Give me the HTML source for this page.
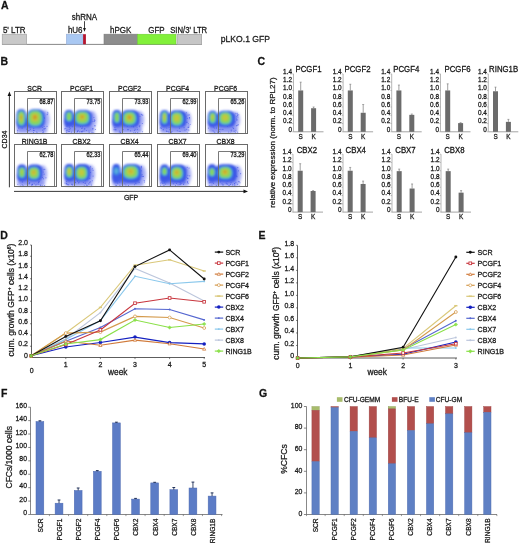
<!DOCTYPE html><html><head><meta charset="utf-8"><style>html,body{margin:0;padding:0;background:#fff;} svg{display:block;will-change:transform;filter:blur(0.25px);} text{font-family:"Liberation Sans", sans-serif;stroke:#1a1a1a;stroke-width:0.26px;}</style></head><body>
<svg width="520" height="545" viewBox="0 0 520 545">
<rect width="520" height="545" fill="#fff"/>
<defs>
<filter id="bl" x="-20%" y="-20%" width="140%" height="140%"><feGaussianBlur stdDeviation="0.9"/></filter>
<linearGradient id="bgrad" x1="0" y1="0" x2="0" y2="1"><stop offset="0" stop-color="#3a56e6"/><stop offset="0.6" stop-color="#3d58e6"/><stop offset="1" stop-color="#4a60ea" stop-opacity="0.5"/></linearGradient>
<filter id="bl2" x="-20%" y="-20%" width="140%" height="140%"><feGaussianBlur stdDeviation="1.4"/></filter>
<g id="flow00">
<g filter="url(#bl2)" opacity="0.7">
<rect x="2.10" y="27.15" width="30.70" height="14.45" rx="3" fill="#5e6cec"/>
<ellipse cx="30.50" cy="28.15" rx="4.5" ry="9.35" fill="#7e88f0"/>
</g>
<circle cx="15.76" cy="37.83" r="0.55" fill="#3446e4" opacity="0.6"/>
<circle cx="22.19" cy="40.46" r="0.55" fill="#3446e4" opacity="0.6"/>
<circle cx="33.25" cy="20.82" r="0.55" fill="#3446e4" opacity="0.6"/>
<circle cx="29.51" cy="26.11" r="0.55" fill="#3446e4" opacity="0.6"/>
<circle cx="12.08" cy="37.59" r="0.55" fill="#3446e4" opacity="0.6"/>
<circle cx="18.95" cy="38.88" r="0.55" fill="#3446e4" opacity="0.6"/>
<circle cx="33.37" cy="22.37" r="0.55" fill="#3446e4" opacity="0.6"/>
<circle cx="15.55" cy="36.31" r="0.55" fill="#3446e4" opacity="0.6"/>
<circle cx="30.05" cy="26.64" r="0.55" fill="#3446e4" opacity="0.6"/>
<circle cx="28.93" cy="40.39" r="0.55" fill="#3446e4" opacity="0.6"/>
<circle cx="22.81" cy="41.45" r="0.55" fill="#3446e4" opacity="0.6"/>
<circle cx="4.17" cy="36.55" r="0.55" fill="#3446e4" opacity="0.6"/>
<circle cx="14.69" cy="38.80" r="0.55" fill="#3446e4" opacity="0.6"/>
<circle cx="19.72" cy="39.06" r="0.55" fill="#3446e4" opacity="0.6"/>
<circle cx="28.27" cy="38.63" r="0.55" fill="#3446e4" opacity="0.6"/>
<circle cx="13.67" cy="39.08" r="0.55" fill="#3446e4" opacity="0.6"/>
<circle cx="32.66" cy="23.09" r="0.55" fill="#3446e4" opacity="0.6"/>
<circle cx="32.51" cy="34.85" r="0.55" fill="#3446e4" opacity="0.6"/>
<circle cx="30.82" cy="36.80" r="0.55" fill="#3446e4" opacity="0.6"/>
<circle cx="30.02" cy="37.19" r="0.55" fill="#3446e4" opacity="0.6"/>
<circle cx="3.11" cy="38.86" r="0.55" fill="#3446e4" opacity="0.6"/>
<circle cx="29.21" cy="41.45" r="0.55" fill="#3446e4" opacity="0.6"/>
<circle cx="3.03" cy="40.53" r="0.55" fill="#3446e4" opacity="0.6"/>
<circle cx="19.04" cy="41.13" r="0.55" fill="#3446e4" opacity="0.6"/>
<circle cx="29.67" cy="34.98" r="0.55" fill="#3446e4" opacity="0.6"/>
<circle cx="7.60" cy="36.63" r="0.55" fill="#3446e4" opacity="0.6"/>
<circle cx="19.18" cy="36.78" r="0.55" fill="#3446e4" opacity="0.6"/>
<circle cx="28.02" cy="41.27" r="0.55" fill="#3446e4" opacity="0.6"/>
<circle cx="29.33" cy="37.37" r="0.55" fill="#3446e4" opacity="0.6"/>
<circle cx="28.24" cy="35.93" r="0.55" fill="#3446e4" opacity="0.6"/>
<g filter="url(#bl)">
<rect x="1.80" y="17.80" width="10.00" height="18.70" rx="3.50" ry="6.54" fill="#3a56e6"/>
<rect x="12.40" y="17.80" width="18.10" height="18.70" rx="6.33" ry="6.54" fill="#3a56e6"/>
<rect x="3.00" y="27.15" width="26.30" height="9.35" rx="3" fill="url(#bgrad)"/>
<rect x="2.51" y="19.00" width="8.59" height="15.81" rx="3.44" ry="6.32" fill="#3a7ce2"/>
<rect x="3.23" y="19.87" width="7.13" height="13.87" rx="2.85" ry="5.55" fill="#46c2d2"/>
<rect x="3.67" y="20.23" width="6.27" height="12.73" rx="2.51" ry="5.09" fill="#84d460"/>
<rect x="4.88" y="22.52" width="3.43" height="7.37" rx="1.37" ry="2.95" fill="#c2c83c"/>
<rect x="5.86" y="24.29" width="1.48" height="3.22" rx="0.59" ry="1.29" fill="#d0982a"/>
<rect x="12.28" y="18.28" width="16.73" height="17.04" rx="6.69" ry="6.82" fill="#3a7ce2"/>
<rect x="13.46" y="19.20" width="14.38" height="14.99" rx="5.75" ry="6.00" fill="#46c2d2"/>
<rect x="14.24" y="19.61" width="12.82" height="13.77" rx="5.13" ry="5.51" fill="#84d460"/>
<rect x="16.94" y="22.11" width="7.02" height="7.98" rx="2.81" ry="3.19" fill="#c2c83c"/>
<rect x="18.56" y="23.62" width="3.78" height="4.35" rx="1.51" ry="1.74" fill="#d0982a"/>
</g>
</g>
<g id="flow01">
<g filter="url(#bl2)" opacity="0.7">
<rect x="2.90" y="27.00" width="30.10" height="14.60" rx="3" fill="#5e6cec"/>
<ellipse cx="30.70" cy="28.00" rx="4.5" ry="8.50" fill="#7e88f0"/>
</g>
<circle cx="11.16" cy="35.11" r="0.55" fill="#3446e4" opacity="0.6"/>
<circle cx="32.85" cy="29.94" r="0.55" fill="#3446e4" opacity="0.6"/>
<circle cx="32.24" cy="41.35" r="0.55" fill="#3446e4" opacity="0.6"/>
<circle cx="32.80" cy="28.19" r="0.55" fill="#3446e4" opacity="0.6"/>
<circle cx="22.51" cy="39.50" r="0.55" fill="#3446e4" opacity="0.6"/>
<circle cx="23.41" cy="37.37" r="0.55" fill="#3446e4" opacity="0.6"/>
<circle cx="31.39" cy="37.01" r="0.55" fill="#3446e4" opacity="0.6"/>
<circle cx="8.65" cy="37.15" r="0.55" fill="#3446e4" opacity="0.6"/>
<circle cx="13.44" cy="37.40" r="0.55" fill="#3446e4" opacity="0.6"/>
<circle cx="33.32" cy="28.85" r="0.55" fill="#3446e4" opacity="0.6"/>
<circle cx="15.58" cy="40.48" r="0.55" fill="#3446e4" opacity="0.6"/>
<circle cx="31.24" cy="37.52" r="0.55" fill="#3446e4" opacity="0.6"/>
<circle cx="7.65" cy="37.94" r="0.55" fill="#3446e4" opacity="0.6"/>
<circle cx="33.59" cy="34.37" r="0.55" fill="#3446e4" opacity="0.6"/>
<circle cx="33.29" cy="34.21" r="0.55" fill="#3446e4" opacity="0.6"/>
<circle cx="19.48" cy="40.20" r="0.55" fill="#3446e4" opacity="0.6"/>
<circle cx="16.59" cy="38.89" r="0.55" fill="#3446e4" opacity="0.6"/>
<circle cx="7.18" cy="39.70" r="0.55" fill="#3446e4" opacity="0.6"/>
<circle cx="21.24" cy="39.58" r="0.55" fill="#3446e4" opacity="0.6"/>
<circle cx="16.18" cy="39.86" r="0.55" fill="#3446e4" opacity="0.6"/>
<circle cx="3.22" cy="37.36" r="0.55" fill="#3446e4" opacity="0.6"/>
<circle cx="20.37" cy="37.05" r="0.55" fill="#3446e4" opacity="0.6"/>
<circle cx="20.57" cy="36.54" r="0.55" fill="#3446e4" opacity="0.6"/>
<circle cx="31.48" cy="29.85" r="0.55" fill="#3446e4" opacity="0.6"/>
<circle cx="19.03" cy="35.12" r="0.55" fill="#3446e4" opacity="0.6"/>
<circle cx="17.97" cy="40.37" r="0.55" fill="#3446e4" opacity="0.6"/>
<circle cx="24.85" cy="38.99" r="0.55" fill="#3446e4" opacity="0.6"/>
<circle cx="32.40" cy="25.98" r="0.55" fill="#3446e4" opacity="0.6"/>
<circle cx="20.50" cy="40.40" r="0.55" fill="#3446e4" opacity="0.6"/>
<circle cx="5.37" cy="34.63" r="0.55" fill="#3446e4" opacity="0.6"/>
<circle cx="27.48" cy="39.43" r="0.55" fill="#3446e4" opacity="0.6"/>
<circle cx="7.90" cy="35.61" r="0.55" fill="#3446e4" opacity="0.6"/>
<circle cx="30.56" cy="40.92" r="0.55" fill="#3446e4" opacity="0.6"/>
<circle cx="9.93" cy="40.60" r="0.55" fill="#3446e4" opacity="0.6"/>
<circle cx="33.89" cy="38.06" r="0.55" fill="#3446e4" opacity="0.6"/>
<circle cx="5.10" cy="41.29" r="0.55" fill="#3446e4" opacity="0.6"/>
<circle cx="27.62" cy="41.00" r="0.55" fill="#3446e4" opacity="0.6"/>
<circle cx="4.33" cy="36.94" r="0.55" fill="#3446e4" opacity="0.6"/>
<circle cx="16.23" cy="39.73" r="0.55" fill="#3446e4" opacity="0.6"/>
<circle cx="7.75" cy="39.89" r="0.55" fill="#3446e4" opacity="0.6"/>
<circle cx="20.85" cy="35.28" r="0.55" fill="#3446e4" opacity="0.6"/>
<circle cx="5.35" cy="40.30" r="0.55" fill="#3446e4" opacity="0.6"/>
<circle cx="22.83" cy="37.41" r="0.55" fill="#3446e4" opacity="0.6"/>
<circle cx="5.70" cy="38.57" r="0.55" fill="#3446e4" opacity="0.6"/>
<circle cx="5.17" cy="38.70" r="0.55" fill="#3446e4" opacity="0.6"/>
<circle cx="20.30" cy="40.05" r="0.55" fill="#3446e4" opacity="0.6"/>
<g filter="url(#bl)">
<rect x="2.60" y="18.50" width="9.80" height="17.00" rx="3.43" ry="5.95" fill="#3a56e6"/>
<rect x="12.50" y="18.50" width="18.20" height="17.00" rx="6.37" ry="5.95" fill="#3a56e6"/>
<rect x="3.80" y="27.00" width="25.70" height="8.50" rx="3" fill="url(#bgrad)"/>
<rect x="4.21" y="20.25" width="6.58" height="10.10" rx="2.63" ry="4.04" fill="#3a7ce2"/>
<rect x="4.83" y="20.87" width="5.35" height="8.67" rx="2.14" ry="3.47" fill="#46c2d2"/>
<rect x="5.17" y="21.06" width="4.66" height="7.89" rx="1.86" ry="3.15" fill="#84d460"/>
<rect x="12.85" y="19.39" width="15.90" height="14.02" rx="6.36" ry="5.61" fill="#3a7ce2"/>
<rect x="13.98" y="20.18" width="13.64" height="12.24" rx="5.46" ry="4.89" fill="#46c2d2"/>
<rect x="14.72" y="20.50" width="12.16" height="11.21" rx="4.86" ry="4.48" fill="#84d460"/>
<rect x="17.27" y="22.46" width="6.66" height="6.49" rx="2.66" ry="2.60" fill="#c2c83c"/>
<rect x="19.17" y="23.98" width="2.87" height="2.83" rx="1.15" ry="1.13" fill="#d0982a"/>
</g>
</g>
<g id="flow02">
<g filter="url(#bl2)" opacity="0.7">
<rect x="3.10" y="27.15" width="29.40" height="14.45" rx="3" fill="#5e6cec"/>
<ellipse cx="30.20" cy="28.15" rx="4.5" ry="8.65" fill="#7e88f0"/>
</g>
<circle cx="31.71" cy="22.74" r="0.55" fill="#3446e4" opacity="0.6"/>
<circle cx="18.35" cy="38.11" r="0.55" fill="#3446e4" opacity="0.6"/>
<circle cx="24.21" cy="41.23" r="0.55" fill="#3446e4" opacity="0.6"/>
<circle cx="13.72" cy="38.06" r="0.55" fill="#3446e4" opacity="0.6"/>
<circle cx="5.45" cy="36.13" r="0.55" fill="#3446e4" opacity="0.6"/>
<circle cx="5.87" cy="38.25" r="0.55" fill="#3446e4" opacity="0.6"/>
<circle cx="29.76" cy="34.65" r="0.55" fill="#3446e4" opacity="0.6"/>
<circle cx="11.30" cy="40.79" r="0.55" fill="#3446e4" opacity="0.6"/>
<circle cx="32.87" cy="32.04" r="0.55" fill="#3446e4" opacity="0.6"/>
<circle cx="10.73" cy="40.88" r="0.55" fill="#3446e4" opacity="0.6"/>
<circle cx="25.07" cy="39.05" r="0.55" fill="#3446e4" opacity="0.6"/>
<circle cx="33.24" cy="23.65" r="0.55" fill="#3446e4" opacity="0.6"/>
<circle cx="4.63" cy="38.12" r="0.55" fill="#3446e4" opacity="0.6"/>
<circle cx="30.42" cy="33.74" r="0.55" fill="#3446e4" opacity="0.6"/>
<circle cx="25.61" cy="37.64" r="0.55" fill="#3446e4" opacity="0.6"/>
<circle cx="18.63" cy="38.12" r="0.55" fill="#3446e4" opacity="0.6"/>
<circle cx="27.76" cy="37.94" r="0.55" fill="#3446e4" opacity="0.6"/>
<circle cx="21.06" cy="39.34" r="0.55" fill="#3446e4" opacity="0.6"/>
<circle cx="24.06" cy="35.13" r="0.55" fill="#3446e4" opacity="0.6"/>
<circle cx="6.49" cy="38.14" r="0.55" fill="#3446e4" opacity="0.6"/>
<circle cx="22.34" cy="34.86" r="0.55" fill="#3446e4" opacity="0.6"/>
<circle cx="27.55" cy="36.29" r="0.55" fill="#3446e4" opacity="0.6"/>
<circle cx="25.79" cy="41.09" r="0.55" fill="#3446e4" opacity="0.6"/>
<circle cx="17.86" cy="34.93" r="0.55" fill="#3446e4" opacity="0.6"/>
<circle cx="23.73" cy="35.11" r="0.55" fill="#3446e4" opacity="0.6"/>
<circle cx="30.47" cy="24.70" r="0.55" fill="#3446e4" opacity="0.6"/>
<circle cx="33.04" cy="40.25" r="0.55" fill="#3446e4" opacity="0.6"/>
<circle cx="28.22" cy="40.93" r="0.55" fill="#3446e4" opacity="0.6"/>
<circle cx="9.68" cy="40.45" r="0.55" fill="#3446e4" opacity="0.6"/>
<circle cx="32.26" cy="23.30" r="0.55" fill="#3446e4" opacity="0.6"/>
<circle cx="30.26" cy="35.34" r="0.55" fill="#3446e4" opacity="0.6"/>
<circle cx="10.33" cy="39.44" r="0.55" fill="#3446e4" opacity="0.6"/>
<g filter="url(#bl)">
<rect x="2.80" y="18.50" width="9.20" height="17.30" rx="3.22" ry="6.05" fill="#3a56e6"/>
<rect x="11.60" y="18.50" width="18.60" height="17.30" rx="6.51" ry="6.05" fill="#3a56e6"/>
<rect x="4.00" y="27.15" width="25.00" height="8.65" rx="3" fill="url(#bgrad)"/>
<rect x="4.29" y="20.32" width="6.23" height="11.55" rx="2.49" ry="4.62" fill="#3a7ce2"/>
<rect x="4.88" y="21.00" width="5.03" height="9.99" rx="2.01" ry="4.00" fill="#46c2d2"/>
<rect x="5.22" y="21.24" width="4.37" height="9.12" rx="1.75" ry="3.65" fill="#84d460"/>
<rect x="12.74" y="19.78" width="14.72" height="14.24" rx="5.89" ry="5.70" fill="#3a7ce2"/>
<rect x="13.81" y="20.58" width="12.59" height="12.44" rx="5.04" ry="4.98" fill="#46c2d2"/>
<rect x="14.50" y="20.90" width="11.21" height="11.40" rx="4.48" ry="4.56" fill="#84d460"/>
<rect x="16.83" y="22.90" width="6.14" height="6.60" rx="2.45" ry="2.64" fill="#c2c83c"/>
<rect x="18.25" y="24.10" width="3.30" height="3.60" rx="1.32" ry="1.44" fill="#d0982a"/>
</g>
</g>
<g id="flow03">
<g filter="url(#bl2)" opacity="0.7">
<rect x="2.50" y="27.45" width="29.00" height="14.15" rx="3" fill="#5e6cec"/>
<ellipse cx="29.20" cy="28.45" rx="4.5" ry="8.65" fill="#7e88f0"/>
</g>
<circle cx="12.18" cy="38.28" r="0.55" fill="#3446e4" opacity="0.6"/>
<circle cx="2.75" cy="36.42" r="0.55" fill="#3446e4" opacity="0.6"/>
<circle cx="30.49" cy="35.63" r="0.55" fill="#3446e4" opacity="0.6"/>
<circle cx="29.75" cy="26.83" r="0.55" fill="#3446e4" opacity="0.6"/>
<circle cx="32.66" cy="33.05" r="0.55" fill="#3446e4" opacity="0.6"/>
<circle cx="5.75" cy="38.16" r="0.55" fill="#3446e4" opacity="0.6"/>
<circle cx="11.27" cy="40.26" r="0.55" fill="#3446e4" opacity="0.6"/>
<circle cx="13.90" cy="40.69" r="0.55" fill="#3446e4" opacity="0.6"/>
<circle cx="29.23" cy="37.69" r="0.55" fill="#3446e4" opacity="0.6"/>
<circle cx="21.63" cy="39.80" r="0.55" fill="#3446e4" opacity="0.6"/>
<circle cx="30.92" cy="32.22" r="0.55" fill="#3446e4" opacity="0.6"/>
<circle cx="30.50" cy="23.45" r="0.55" fill="#3446e4" opacity="0.6"/>
<circle cx="11.63" cy="36.17" r="0.55" fill="#3446e4" opacity="0.6"/>
<circle cx="31.99" cy="26.21" r="0.55" fill="#3446e4" opacity="0.6"/>
<circle cx="8.94" cy="39.64" r="0.55" fill="#3446e4" opacity="0.6"/>
<circle cx="29.89" cy="41.53" r="0.55" fill="#3446e4" opacity="0.6"/>
<circle cx="19.79" cy="39.25" r="0.55" fill="#3446e4" opacity="0.6"/>
<circle cx="31.73" cy="23.42" r="0.55" fill="#3446e4" opacity="0.6"/>
<circle cx="28.59" cy="25.29" r="0.55" fill="#3446e4" opacity="0.6"/>
<circle cx="31.32" cy="38.45" r="0.55" fill="#3446e4" opacity="0.6"/>
<circle cx="28.89" cy="21.25" r="0.55" fill="#3446e4" opacity="0.6"/>
<circle cx="3.67" cy="35.56" r="0.55" fill="#3446e4" opacity="0.6"/>
<circle cx="29.57" cy="30.64" r="0.55" fill="#3446e4" opacity="0.6"/>
<circle cx="14.45" cy="40.08" r="0.55" fill="#3446e4" opacity="0.6"/>
<circle cx="27.47" cy="38.59" r="0.55" fill="#3446e4" opacity="0.6"/>
<circle cx="31.87" cy="25.97" r="0.55" fill="#3446e4" opacity="0.6"/>
<circle cx="30.94" cy="35.81" r="0.55" fill="#3446e4" opacity="0.6"/>
<circle cx="22.12" cy="36.71" r="0.55" fill="#3446e4" opacity="0.6"/>
<circle cx="3.89" cy="37.07" r="0.55" fill="#3446e4" opacity="0.6"/>
<circle cx="9.68" cy="39.93" r="0.55" fill="#3446e4" opacity="0.6"/>
<circle cx="21.79" cy="35.33" r="0.55" fill="#3446e4" opacity="0.6"/>
<circle cx="31.47" cy="34.21" r="0.55" fill="#3446e4" opacity="0.6"/>
<circle cx="29.21" cy="30.69" r="0.55" fill="#3446e4" opacity="0.6"/>
<circle cx="31.52" cy="35.46" r="0.55" fill="#3446e4" opacity="0.6"/>
<circle cx="22.72" cy="40.04" r="0.55" fill="#3446e4" opacity="0.6"/>
<circle cx="26.61" cy="36.17" r="0.55" fill="#3446e4" opacity="0.6"/>
<circle cx="31.80" cy="27.28" r="0.55" fill="#3446e4" opacity="0.6"/>
<circle cx="9.34" cy="36.62" r="0.55" fill="#3446e4" opacity="0.6"/>
<circle cx="11.55" cy="40.60" r="0.55" fill="#3446e4" opacity="0.6"/>
<g filter="url(#bl)">
<rect x="2.20" y="18.80" width="9.60" height="17.30" rx="3.36" ry="6.05" fill="#3a56e6"/>
<rect x="11.20" y="18.80" width="18.00" height="17.30" rx="6.30" ry="6.05" fill="#3a56e6"/>
<rect x="3.40" y="27.45" width="24.60" height="8.65" rx="3" fill="url(#bgrad)"/>
<rect x="3.77" y="19.84" width="6.46" height="13.12" rx="2.59" ry="5.25" fill="#3a7ce2"/>
<rect x="4.38" y="20.59" width="5.24" height="11.42" rx="2.10" ry="4.57" fill="#46c2d2"/>
<rect x="4.72" y="20.88" width="4.56" height="10.45" rx="1.82" ry="4.18" fill="#84d460"/>
<rect x="5.55" y="22.68" width="2.50" height="6.05" rx="1.00" ry="2.42" fill="#c2c83c"/>
<rect x="12.63" y="20.06" width="13.54" height="14.69" rx="5.42" ry="5.88" fill="#3a7ce2"/>
<rect x="13.63" y="20.88" width="11.54" height="12.85" rx="4.62" ry="5.14" fill="#46c2d2"/>
<rect x="14.27" y="21.21" width="10.26" height="11.78" rx="4.10" ry="4.71" fill="#84d460"/>
<rect x="16.39" y="23.29" width="5.62" height="6.82" rx="2.25" ry="2.73" fill="#c2c83c"/>
</g>
</g>
<g id="flow04">
<g filter="url(#bl2)" opacity="0.7">
<rect x="2.60" y="27.50" width="29.70" height="14.10" rx="3" fill="#5e6cec"/>
<ellipse cx="30.00" cy="28.50" rx="4.5" ry="8.30" fill="#7e88f0"/>
</g>
<circle cx="23.22" cy="40.55" r="0.55" fill="#3446e4" opacity="0.6"/>
<circle cx="9.34" cy="41.07" r="0.55" fill="#3446e4" opacity="0.6"/>
<circle cx="30.37" cy="39.23" r="0.55" fill="#3446e4" opacity="0.6"/>
<circle cx="25.29" cy="41.55" r="0.55" fill="#3446e4" opacity="0.6"/>
<circle cx="31.40" cy="27.92" r="0.55" fill="#3446e4" opacity="0.6"/>
<circle cx="8.50" cy="40.29" r="0.55" fill="#3446e4" opacity="0.6"/>
<circle cx="32.13" cy="23.72" r="0.55" fill="#3446e4" opacity="0.6"/>
<circle cx="32.40" cy="25.43" r="0.55" fill="#3446e4" opacity="0.6"/>
<circle cx="13.75" cy="37.96" r="0.55" fill="#3446e4" opacity="0.6"/>
<circle cx="14.24" cy="39.96" r="0.55" fill="#3446e4" opacity="0.6"/>
<circle cx="30.34" cy="21.82" r="0.55" fill="#3446e4" opacity="0.6"/>
<circle cx="15.41" cy="37.76" r="0.55" fill="#3446e4" opacity="0.6"/>
<circle cx="31.05" cy="26.44" r="0.55" fill="#3446e4" opacity="0.6"/>
<circle cx="25.74" cy="39.53" r="0.55" fill="#3446e4" opacity="0.6"/>
<circle cx="32.20" cy="33.79" r="0.55" fill="#3446e4" opacity="0.6"/>
<circle cx="10.85" cy="35.82" r="0.55" fill="#3446e4" opacity="0.6"/>
<circle cx="2.92" cy="36.62" r="0.55" fill="#3446e4" opacity="0.6"/>
<circle cx="30.94" cy="34.13" r="0.55" fill="#3446e4" opacity="0.6"/>
<circle cx="31.76" cy="21.69" r="0.55" fill="#3446e4" opacity="0.6"/>
<circle cx="32.17" cy="40.66" r="0.55" fill="#3446e4" opacity="0.6"/>
<circle cx="31.29" cy="24.93" r="0.55" fill="#3446e4" opacity="0.6"/>
<circle cx="27.44" cy="36.27" r="0.55" fill="#3446e4" opacity="0.6"/>
<circle cx="28.06" cy="36.97" r="0.55" fill="#3446e4" opacity="0.6"/>
<circle cx="8.86" cy="36.56" r="0.55" fill="#3446e4" opacity="0.6"/>
<circle cx="12.80" cy="41.20" r="0.55" fill="#3446e4" opacity="0.6"/>
<circle cx="29.92" cy="41.35" r="0.55" fill="#3446e4" opacity="0.6"/>
<circle cx="21.84" cy="34.95" r="0.55" fill="#3446e4" opacity="0.6"/>
<circle cx="25.76" cy="38.48" r="0.55" fill="#3446e4" opacity="0.6"/>
<circle cx="7.51" cy="39.24" r="0.55" fill="#3446e4" opacity="0.6"/>
<circle cx="14.96" cy="41.45" r="0.55" fill="#3446e4" opacity="0.6"/>
<circle cx="33.22" cy="23.29" r="0.55" fill="#3446e4" opacity="0.6"/>
<circle cx="17.38" cy="37.91" r="0.55" fill="#3446e4" opacity="0.6"/>
<circle cx="28.61" cy="39.85" r="0.55" fill="#3446e4" opacity="0.6"/>
<circle cx="32.67" cy="33.10" r="0.55" fill="#3446e4" opacity="0.6"/>
<circle cx="31.36" cy="28.79" r="0.55" fill="#3446e4" opacity="0.6"/>
<circle cx="29.39" cy="30.36" r="0.55" fill="#3446e4" opacity="0.6"/>
<circle cx="10.78" cy="37.07" r="0.55" fill="#3446e4" opacity="0.6"/>
<circle cx="31.83" cy="23.36" r="0.55" fill="#3446e4" opacity="0.6"/>
<circle cx="7.83" cy="35.39" r="0.55" fill="#3446e4" opacity="0.6"/>
<circle cx="12.24" cy="40.65" r="0.55" fill="#3446e4" opacity="0.6"/>
<g filter="url(#bl)">
<rect x="2.30" y="19.20" width="9.60" height="16.60" rx="3.36" ry="5.81" fill="#3a56e6"/>
<rect x="11.20" y="19.20" width="18.80" height="16.60" rx="6.58" ry="5.81" fill="#3a56e6"/>
<rect x="3.50" y="27.50" width="25.30" height="8.30" rx="3" fill="url(#bgrad)"/>
<rect x="3.40" y="20.51" width="7.41" height="11.78" rx="2.96" ry="4.71" fill="#3a7ce2"/>
<rect x="4.06" y="21.20" width="6.08" height="10.20" rx="2.43" ry="4.08" fill="#46c2d2"/>
<rect x="4.44" y="21.45" width="5.32" height="9.31" rx="2.13" ry="3.72" fill="#84d460"/>
<rect x="5.74" y="23.54" width="2.33" height="4.31" rx="0.93" ry="1.72" fill="#c2c83c"/>
<rect x="12.67" y="20.12" width="14.25" height="13.57" rx="5.70" ry="5.43" fill="#3a7ce2"/>
<rect x="13.71" y="20.89" width="12.17" height="11.83" rx="4.87" ry="4.73" fill="#46c2d2"/>
<rect x="14.39" y="21.19" width="10.83" height="10.83" rx="4.33" ry="4.33" fill="#84d460"/>
<rect x="16.64" y="23.07" width="5.93" height="6.27" rx="2.37" ry="2.51" fill="#c2c83c"/>
</g>
</g>
<g id="flow10">
<g filter="url(#bl2)" opacity="0.7">
<rect x="2.90" y="28.55" width="27.60" height="13.05" rx="3" fill="#5e6cec"/>
<ellipse cx="28.20" cy="29.55" rx="4.5" ry="8.45" fill="#7e88f0"/>
</g>
<circle cx="27.82" cy="41.53" r="0.55" fill="#3446e4" opacity="0.6"/>
<circle cx="3.27" cy="39.68" r="0.55" fill="#3446e4" opacity="0.6"/>
<circle cx="15.22" cy="38.10" r="0.55" fill="#3446e4" opacity="0.6"/>
<circle cx="14.72" cy="39.32" r="0.55" fill="#3446e4" opacity="0.6"/>
<circle cx="21.42" cy="39.84" r="0.55" fill="#3446e4" opacity="0.6"/>
<circle cx="18.01" cy="40.15" r="0.55" fill="#3446e4" opacity="0.6"/>
<circle cx="26.12" cy="40.95" r="0.55" fill="#3446e4" opacity="0.6"/>
<circle cx="30.07" cy="41.12" r="0.55" fill="#3446e4" opacity="0.6"/>
<circle cx="29.59" cy="29.66" r="0.55" fill="#3446e4" opacity="0.6"/>
<circle cx="28.96" cy="34.20" r="0.55" fill="#3446e4" opacity="0.6"/>
<circle cx="14.67" cy="38.60" r="0.55" fill="#3446e4" opacity="0.6"/>
<circle cx="23.83" cy="39.60" r="0.55" fill="#3446e4" opacity="0.6"/>
<circle cx="24.94" cy="37.31" r="0.55" fill="#3446e4" opacity="0.6"/>
<circle cx="24.08" cy="37.26" r="0.55" fill="#3446e4" opacity="0.6"/>
<circle cx="30.29" cy="24.76" r="0.55" fill="#3446e4" opacity="0.6"/>
<circle cx="27.61" cy="41.52" r="0.55" fill="#3446e4" opacity="0.6"/>
<circle cx="24.04" cy="37.99" r="0.55" fill="#3446e4" opacity="0.6"/>
<circle cx="8.64" cy="41.24" r="0.55" fill="#3446e4" opacity="0.6"/>
<circle cx="17.17" cy="40.75" r="0.55" fill="#3446e4" opacity="0.6"/>
<circle cx="29.30" cy="25.32" r="0.55" fill="#3446e4" opacity="0.6"/>
<circle cx="25.65" cy="40.25" r="0.55" fill="#3446e4" opacity="0.6"/>
<circle cx="28.74" cy="27.46" r="0.55" fill="#3446e4" opacity="0.6"/>
<circle cx="17.46" cy="40.04" r="0.55" fill="#3446e4" opacity="0.6"/>
<circle cx="7.71" cy="40.36" r="0.55" fill="#3446e4" opacity="0.6"/>
<circle cx="22.54" cy="39.56" r="0.55" fill="#3446e4" opacity="0.6"/>
<circle cx="7.93" cy="37.40" r="0.55" fill="#3446e4" opacity="0.6"/>
<circle cx="28.07" cy="32.93" r="0.55" fill="#3446e4" opacity="0.6"/>
<circle cx="19.69" cy="39.31" r="0.55" fill="#3446e4" opacity="0.6"/>
<circle cx="6.09" cy="41.46" r="0.55" fill="#3446e4" opacity="0.6"/>
<circle cx="31.43" cy="33.36" r="0.55" fill="#3446e4" opacity="0.6"/>
<circle cx="13.40" cy="37.01" r="0.55" fill="#3446e4" opacity="0.6"/>
<circle cx="21.38" cy="41.29" r="0.55" fill="#3446e4" opacity="0.6"/>
<circle cx="17.76" cy="39.56" r="0.55" fill="#3446e4" opacity="0.6"/>
<g filter="url(#bl)">
<rect x="2.60" y="20.10" width="9.60" height="16.90" rx="3.36" ry="5.91" fill="#3a56e6"/>
<rect x="12.20" y="20.10" width="16.00" height="16.90" rx="5.60" ry="5.91" fill="#3a56e6"/>
<rect x="3.80" y="28.55" width="23.20" height="8.45" rx="3" fill="url(#bgrad)"/>
<rect x="3.70" y="22.54" width="7.41" height="11.33" rx="2.96" ry="4.53" fill="#3a7ce2"/>
<rect x="4.36" y="23.21" width="6.08" height="9.79" rx="2.43" ry="3.92" fill="#46c2d2"/>
<rect x="4.74" y="23.43" width="5.32" height="8.93" rx="2.13" ry="3.57" fill="#84d460"/>
<rect x="6.33" y="25.95" width="1.75" height="3.10" rx="0.70" ry="1.24" fill="#c2c83c"/>
<rect x="13.10" y="22.35" width="12.60" height="12.90" rx="5.04" ry="5.16" fill="#3a7ce2"/>
<rect x="14.05" y="23.09" width="10.70" height="11.22" rx="4.28" ry="4.49" fill="#46c2d2"/>
<rect x="14.65" y="23.37" width="9.50" height="10.26" rx="3.80" ry="4.10" fill="#84d460"/>
<rect x="16.60" y="25.13" width="5.20" height="5.94" rx="2.08" ry="2.38" fill="#c2c83c"/>
<rect x="18.36" y="26.83" width="1.68" height="1.94" rx="0.67" ry="0.78" fill="#d0982a"/>
</g>
</g>
<g id="flow11">
<g filter="url(#bl2)" opacity="0.7">
<rect x="3.10" y="28.20" width="28.30" height="13.40" rx="3" fill="#5e6cec"/>
<ellipse cx="29.10" cy="29.20" rx="4.5" ry="8.80" fill="#7e88f0"/>
</g>
<circle cx="7.25" cy="40.32" r="0.55" fill="#3446e4" opacity="0.6"/>
<circle cx="28.83" cy="37.20" r="0.55" fill="#3446e4" opacity="0.6"/>
<circle cx="30.76" cy="36.22" r="0.55" fill="#3446e4" opacity="0.6"/>
<circle cx="10.58" cy="39.65" r="0.55" fill="#3446e4" opacity="0.6"/>
<circle cx="5.01" cy="37.13" r="0.55" fill="#3446e4" opacity="0.6"/>
<circle cx="30.87" cy="24.27" r="0.55" fill="#3446e4" opacity="0.6"/>
<circle cx="4.72" cy="39.36" r="0.55" fill="#3446e4" opacity="0.6"/>
<circle cx="3.49" cy="38.46" r="0.55" fill="#3446e4" opacity="0.6"/>
<circle cx="13.13" cy="36.54" r="0.55" fill="#3446e4" opacity="0.6"/>
<circle cx="23.67" cy="38.48" r="0.55" fill="#3446e4" opacity="0.6"/>
<circle cx="31.58" cy="25.78" r="0.55" fill="#3446e4" opacity="0.6"/>
<circle cx="29.09" cy="21.71" r="0.55" fill="#3446e4" opacity="0.6"/>
<circle cx="25.10" cy="40.48" r="0.55" fill="#3446e4" opacity="0.6"/>
<circle cx="29.09" cy="28.04" r="0.55" fill="#3446e4" opacity="0.6"/>
<circle cx="10.31" cy="39.73" r="0.55" fill="#3446e4" opacity="0.6"/>
<circle cx="22.79" cy="41.18" r="0.55" fill="#3446e4" opacity="0.6"/>
<circle cx="17.06" cy="38.36" r="0.55" fill="#3446e4" opacity="0.6"/>
<circle cx="23.74" cy="38.72" r="0.55" fill="#3446e4" opacity="0.6"/>
<circle cx="16.11" cy="36.04" r="0.55" fill="#3446e4" opacity="0.6"/>
<circle cx="5.58" cy="39.80" r="0.55" fill="#3446e4" opacity="0.6"/>
<circle cx="6.43" cy="40.16" r="0.55" fill="#3446e4" opacity="0.6"/>
<circle cx="23.72" cy="36.28" r="0.55" fill="#3446e4" opacity="0.6"/>
<circle cx="13.95" cy="37.91" r="0.55" fill="#3446e4" opacity="0.6"/>
<circle cx="27.31" cy="39.40" r="0.55" fill="#3446e4" opacity="0.6"/>
<circle cx="5.23" cy="38.93" r="0.55" fill="#3446e4" opacity="0.6"/>
<circle cx="30.09" cy="40.48" r="0.55" fill="#3446e4" opacity="0.6"/>
<circle cx="28.14" cy="37.80" r="0.55" fill="#3446e4" opacity="0.6"/>
<circle cx="21.88" cy="38.07" r="0.55" fill="#3446e4" opacity="0.6"/>
<circle cx="31.55" cy="31.58" r="0.55" fill="#3446e4" opacity="0.6"/>
<circle cx="28.25" cy="33.89" r="0.55" fill="#3446e4" opacity="0.6"/>
<circle cx="16.09" cy="37.02" r="0.55" fill="#3446e4" opacity="0.6"/>
<circle cx="28.56" cy="23.24" r="0.55" fill="#3446e4" opacity="0.6"/>
<circle cx="25.63" cy="41.15" r="0.55" fill="#3446e4" opacity="0.6"/>
<circle cx="17.70" cy="37.49" r="0.55" fill="#3446e4" opacity="0.6"/>
<circle cx="13.47" cy="38.20" r="0.55" fill="#3446e4" opacity="0.6"/>
<circle cx="10.93" cy="40.47" r="0.55" fill="#3446e4" opacity="0.6"/>
<g filter="url(#bl)">
<rect x="2.80" y="19.40" width="10.00" height="17.60" rx="3.50" ry="6.16" fill="#3a56e6"/>
<rect x="12.70" y="19.40" width="16.40" height="17.60" rx="5.74" ry="6.16" fill="#3a56e6"/>
<rect x="4.00" y="28.20" width="23.90" height="8.80" rx="3" fill="url(#bgrad)"/>
<rect x="3.98" y="21.87" width="7.64" height="11.66" rx="3.06" ry="4.67" fill="#3a7ce2"/>
<rect x="4.65" y="22.55" width="6.29" height="10.09" rx="2.52" ry="4.04" fill="#46c2d2"/>
<rect x="5.04" y="22.79" width="5.51" height="9.21" rx="2.20" ry="3.69" fill="#84d460"/>
<rect x="6.09" y="24.33" width="3.02" height="5.33" rx="1.21" ry="2.13" fill="#c2c83c"/>
<rect x="13.56" y="21.69" width="13.07" height="14.02" rx="5.23" ry="5.61" fill="#3a7ce2"/>
<rect x="14.54" y="22.48" width="11.12" height="12.24" rx="4.45" ry="4.89" fill="#46c2d2"/>
<rect x="15.16" y="22.79" width="9.88" height="11.21" rx="3.95" ry="4.48" fill="#84d460"/>
<rect x="17.20" y="24.75" width="5.41" height="6.49" rx="2.16" ry="2.60" fill="#c2c83c"/>
</g>
</g>
<g id="flow12">
<g filter="url(#bl2)" opacity="0.7">
<rect x="2.90" y="28.90" width="31.40" height="12.70" rx="3" fill="#5e6cec"/>
<ellipse cx="32.00" cy="29.90" rx="4.5" ry="9.50" fill="#7e88f0"/>
</g>
<circle cx="31.95" cy="23.14" r="0.55" fill="#3446e4" opacity="0.6"/>
<circle cx="31.89" cy="21.91" r="0.55" fill="#3446e4" opacity="0.6"/>
<circle cx="32.30" cy="31.52" r="0.55" fill="#3446e4" opacity="0.6"/>
<circle cx="15.39" cy="39.26" r="0.55" fill="#3446e4" opacity="0.6"/>
<circle cx="8.13" cy="38.43" r="0.55" fill="#3446e4" opacity="0.6"/>
<circle cx="31.78" cy="26.21" r="0.55" fill="#3446e4" opacity="0.6"/>
<circle cx="25.88" cy="38.44" r="0.55" fill="#3446e4" opacity="0.6"/>
<circle cx="34.69" cy="36.12" r="0.55" fill="#3446e4" opacity="0.6"/>
<circle cx="6.40" cy="40.84" r="0.55" fill="#3446e4" opacity="0.6"/>
<circle cx="34.98" cy="37.46" r="0.55" fill="#3446e4" opacity="0.6"/>
<circle cx="32.52" cy="30.09" r="0.55" fill="#3446e4" opacity="0.6"/>
<circle cx="26.50" cy="39.18" r="0.55" fill="#3446e4" opacity="0.6"/>
<circle cx="24.98" cy="40.19" r="0.55" fill="#3446e4" opacity="0.6"/>
<circle cx="18.97" cy="41.09" r="0.55" fill="#3446e4" opacity="0.6"/>
<circle cx="33.58" cy="31.89" r="0.55" fill="#3446e4" opacity="0.6"/>
<circle cx="16.40" cy="40.55" r="0.55" fill="#3446e4" opacity="0.6"/>
<circle cx="7.07" cy="41.29" r="0.55" fill="#3446e4" opacity="0.6"/>
<circle cx="33.55" cy="32.05" r="0.55" fill="#3446e4" opacity="0.6"/>
<circle cx="10.19" cy="37.59" r="0.55" fill="#3446e4" opacity="0.6"/>
<circle cx="10.42" cy="40.87" r="0.55" fill="#3446e4" opacity="0.6"/>
<circle cx="29.63" cy="37.89" r="0.55" fill="#3446e4" opacity="0.6"/>
<g filter="url(#bl)">
<rect x="2.60" y="19.40" width="8.40" height="19.00" rx="2.94" ry="6.65" fill="#3a56e6"/>
<rect x="12.20" y="19.40" width="19.80" height="19.00" rx="6.93" ry="6.65" fill="#3a56e6"/>
<rect x="3.80" y="28.90" width="27.00" height="9.50" rx="3" fill="url(#bgrad)"/>
<rect x="3.45" y="22.28" width="6.70" height="8.64" rx="2.68" ry="3.46" fill="#3a7ce2"/>
<rect x="4.92" y="23.70" width="3.75" height="5.60" rx="1.50" ry="2.24" fill="#58b0dc"/>
<rect x="12.76" y="20.68" width="17.08" height="14.24" rx="6.83" ry="5.70" fill="#3a7ce2"/>
<rect x="13.96" y="21.48" width="14.69" height="12.44" rx="5.88" ry="4.98" fill="#46c2d2"/>
<rect x="14.75" y="21.80" width="13.11" height="11.40" rx="5.24" ry="4.56" fill="#84d460"/>
<rect x="17.51" y="23.80" width="7.18" height="6.60" rx="2.87" ry="2.64" fill="#c2c83c"/>
<rect x="19.94" y="25.72" width="2.32" height="2.16" rx="0.93" ry="0.86" fill="#d0982a"/>
</g>
</g>
<g id="flow13">
<g filter="url(#bl2)" opacity="0.7">
<rect x="2.60" y="29.25" width="29.00" height="12.35" rx="3" fill="#5e6cec"/>
<ellipse cx="29.30" cy="30.25" rx="4.5" ry="9.15" fill="#7e88f0"/>
</g>
<circle cx="30.66" cy="38.76" r="0.55" fill="#3446e4" opacity="0.6"/>
<circle cx="4.51" cy="38.24" r="0.55" fill="#3446e4" opacity="0.6"/>
<circle cx="29.97" cy="37.39" r="0.55" fill="#3446e4" opacity="0.6"/>
<circle cx="7.01" cy="38.31" r="0.55" fill="#3446e4" opacity="0.6"/>
<circle cx="3.14" cy="40.66" r="0.55" fill="#3446e4" opacity="0.6"/>
<circle cx="29.92" cy="37.54" r="0.55" fill="#3446e4" opacity="0.6"/>
<circle cx="7.84" cy="39.48" r="0.55" fill="#3446e4" opacity="0.6"/>
<circle cx="22.85" cy="39.53" r="0.55" fill="#3446e4" opacity="0.6"/>
<circle cx="26.44" cy="38.46" r="0.55" fill="#3446e4" opacity="0.6"/>
<circle cx="15.96" cy="39.31" r="0.55" fill="#3446e4" opacity="0.6"/>
<circle cx="18.99" cy="38.93" r="0.55" fill="#3446e4" opacity="0.6"/>
<circle cx="3.00" cy="38.49" r="0.55" fill="#3446e4" opacity="0.6"/>
<circle cx="22.76" cy="38.49" r="0.55" fill="#3446e4" opacity="0.6"/>
<circle cx="31.62" cy="23.57" r="0.55" fill="#3446e4" opacity="0.6"/>
<circle cx="23.28" cy="40.26" r="0.55" fill="#3446e4" opacity="0.6"/>
<circle cx="12.71" cy="41.24" r="0.55" fill="#3446e4" opacity="0.6"/>
<circle cx="29.73" cy="22.76" r="0.55" fill="#3446e4" opacity="0.6"/>
<circle cx="12.96" cy="38.90" r="0.55" fill="#3446e4" opacity="0.6"/>
<circle cx="17.99" cy="41.11" r="0.55" fill="#3446e4" opacity="0.6"/>
<circle cx="22.44" cy="37.54" r="0.55" fill="#3446e4" opacity="0.6"/>
<circle cx="29.37" cy="32.74" r="0.55" fill="#3446e4" opacity="0.6"/>
<circle cx="30.44" cy="33.97" r="0.55" fill="#3446e4" opacity="0.6"/>
<circle cx="22.54" cy="37.49" r="0.55" fill="#3446e4" opacity="0.6"/>
<circle cx="30.09" cy="34.03" r="0.55" fill="#3446e4" opacity="0.6"/>
<circle cx="26.04" cy="39.92" r="0.55" fill="#3446e4" opacity="0.6"/>
<circle cx="27.48" cy="37.44" r="0.55" fill="#3446e4" opacity="0.6"/>
<circle cx="22.05" cy="40.31" r="0.55" fill="#3446e4" opacity="0.6"/>
<circle cx="30.36" cy="30.81" r="0.55" fill="#3446e4" opacity="0.6"/>
<circle cx="20.56" cy="40.39" r="0.55" fill="#3446e4" opacity="0.6"/>
<circle cx="32.22" cy="31.37" r="0.55" fill="#3446e4" opacity="0.6"/>
<circle cx="6.45" cy="40.94" r="0.55" fill="#3446e4" opacity="0.6"/>
<circle cx="5.44" cy="39.06" r="0.55" fill="#3446e4" opacity="0.6"/>
<circle cx="24.21" cy="38.78" r="0.55" fill="#3446e4" opacity="0.6"/>
<g filter="url(#bl)">
<rect x="2.30" y="20.10" width="9.40" height="18.30" rx="3.29" ry="6.40" fill="#3a56e6"/>
<rect x="11.10" y="20.10" width="18.20" height="18.30" rx="6.37" ry="6.40" fill="#3a56e6"/>
<rect x="3.50" y="29.25" width="24.60" height="9.15" rx="3" fill="url(#bgrad)"/>
<rect x="3.95" y="22.67" width="6.11" height="8.86" rx="2.44" ry="3.55" fill="#3a7ce2"/>
<rect x="4.54" y="23.23" width="4.93" height="7.54" rx="1.97" ry="3.02" fill="#46c2d2"/>
<rect x="4.86" y="23.38" width="4.27" height="6.84" rx="1.71" ry="2.74" fill="#84d460"/>
<rect x="12.63" y="22.02" width="13.54" height="13.57" rx="5.42" ry="5.43" fill="#3a7ce2"/>
<rect x="13.63" y="22.79" width="11.54" height="11.83" rx="4.62" ry="4.73" fill="#46c2d2"/>
<rect x="14.27" y="23.09" width="10.26" height="10.83" rx="4.10" ry="4.33" fill="#84d460"/>
<rect x="16.39" y="24.96" width="5.62" height="6.27" rx="2.25" ry="2.51" fill="#c2c83c"/>
<rect x="18.14" y="26.60" width="2.12" height="2.39" rx="0.85" ry="0.96" fill="#d0982a"/>
</g>
</g>
<g id="flow14">
<g filter="url(#bl2)" opacity="0.7">
<rect x="2.30" y="28.70" width="31.70" height="12.90" rx="3" fill="#5e6cec"/>
<ellipse cx="31.70" cy="29.70" rx="4.5" ry="9.00" fill="#7e88f0"/>
</g>
<circle cx="17.56" cy="40.25" r="0.55" fill="#3446e4" opacity="0.6"/>
<circle cx="10.81" cy="40.89" r="0.55" fill="#3446e4" opacity="0.6"/>
<circle cx="7.93" cy="38.83" r="0.55" fill="#3446e4" opacity="0.6"/>
<circle cx="7.24" cy="37.57" r="0.55" fill="#3446e4" opacity="0.6"/>
<circle cx="15.11" cy="37.35" r="0.55" fill="#3446e4" opacity="0.6"/>
<circle cx="33.40" cy="37.31" r="0.55" fill="#3446e4" opacity="0.6"/>
<circle cx="4.48" cy="41.08" r="0.55" fill="#3446e4" opacity="0.6"/>
<circle cx="25.50" cy="38.17" r="0.55" fill="#3446e4" opacity="0.6"/>
<circle cx="34.46" cy="38.24" r="0.55" fill="#3446e4" opacity="0.6"/>
<circle cx="16.51" cy="39.37" r="0.55" fill="#3446e4" opacity="0.6"/>
<circle cx="22.18" cy="39.53" r="0.55" fill="#3446e4" opacity="0.6"/>
<circle cx="29.18" cy="39.36" r="0.55" fill="#3446e4" opacity="0.6"/>
<circle cx="3.88" cy="38.28" r="0.55" fill="#3446e4" opacity="0.6"/>
<circle cx="29.04" cy="38.96" r="0.55" fill="#3446e4" opacity="0.6"/>
<circle cx="30.33" cy="37.76" r="0.55" fill="#3446e4" opacity="0.6"/>
<circle cx="24.89" cy="39.88" r="0.55" fill="#3446e4" opacity="0.6"/>
<circle cx="20.61" cy="37.57" r="0.55" fill="#3446e4" opacity="0.6"/>
<circle cx="32.97" cy="26.36" r="0.55" fill="#3446e4" opacity="0.6"/>
<circle cx="5.37" cy="37.75" r="0.55" fill="#3446e4" opacity="0.6"/>
<circle cx="21.45" cy="39.55" r="0.55" fill="#3446e4" opacity="0.6"/>
<circle cx="31.44" cy="32.08" r="0.55" fill="#3446e4" opacity="0.6"/>
<circle cx="35.11" cy="29.14" r="0.55" fill="#3446e4" opacity="0.6"/>
<circle cx="3.60" cy="41.41" r="0.55" fill="#3446e4" opacity="0.6"/>
<circle cx="30.82" cy="31.38" r="0.55" fill="#3446e4" opacity="0.6"/>
<circle cx="33.45" cy="36.97" r="0.55" fill="#3446e4" opacity="0.6"/>
<circle cx="29.28" cy="40.87" r="0.55" fill="#3446e4" opacity="0.6"/>
<circle cx="20.73" cy="39.03" r="0.55" fill="#3446e4" opacity="0.6"/>
<circle cx="17.49" cy="40.55" r="0.55" fill="#3446e4" opacity="0.6"/>
<circle cx="32.25" cy="22.98" r="0.55" fill="#3446e4" opacity="0.6"/>
<circle cx="6.42" cy="40.79" r="0.55" fill="#3446e4" opacity="0.6"/>
<circle cx="23.45" cy="40.73" r="0.55" fill="#3446e4" opacity="0.6"/>
<circle cx="34.08" cy="41.44" r="0.55" fill="#3446e4" opacity="0.6"/>
<circle cx="32.02" cy="39.70" r="0.55" fill="#3446e4" opacity="0.6"/>
<circle cx="23.65" cy="41.31" r="0.55" fill="#3446e4" opacity="0.6"/>
<circle cx="27.19" cy="40.39" r="0.55" fill="#3446e4" opacity="0.6"/>
<circle cx="21.84" cy="36.78" r="0.55" fill="#3446e4" opacity="0.6"/>
<g filter="url(#bl)">
<rect x="2.00" y="19.70" width="9.00" height="18.00" rx="3.15" ry="6.30" fill="#3a56e6"/>
<rect x="9.30" y="19.70" width="22.40" height="18.00" rx="7.84" ry="6.30" fill="#3a56e6"/>
<rect x="3.20" y="28.70" width="27.30" height="9.00" rx="3" fill="url(#bgrad)"/>
<rect x="3.21" y="23.31" width="6.58" height="8.98" rx="2.63" ry="3.59" fill="#3a7ce2"/>
<rect x="3.83" y="23.88" width="5.35" height="7.65" rx="2.14" ry="3.06" fill="#46c2d2"/>
<rect x="4.17" y="24.03" width="4.66" height="6.93" rx="1.86" ry="2.77" fill="#84d460"/>
<rect x="11.92" y="21.78" width="15.55" height="13.23" rx="6.22" ry="5.29" fill="#3a7ce2"/>
<rect x="13.04" y="22.54" width="13.32" height="11.52" rx="5.33" ry="4.61" fill="#46c2d2"/>
<rect x="13.76" y="22.83" width="11.88" height="10.54" rx="4.75" ry="4.22" fill="#84d460"/>
<rect x="16.25" y="24.65" width="6.50" height="6.11" rx="2.60" ry="2.44" fill="#c2c83c"/>
<rect x="18.10" y="26.07" width="2.80" height="2.66" rx="1.12" ry="1.07" fill="#d0982a"/>
</g>
</g>
</defs>
<text transform="translate(1.00,8.70) scale(1,1.0)" font-size="10.5" text-anchor="start" font-weight="bold" fill="#111" >A</text>
<line x1="2" y1="44.4" x2="202" y2="44.4" stroke="#888" stroke-width="1"/>
<rect x="2.3" y="34.3" width="24.2" height="10" fill="#c9c9c9" stroke="#a9a9a9" stroke-width="0.8"/>
<rect x="66.3" y="34.2" width="16.8" height="10" fill="#a9c8f2" stroke="#98b0d8" stroke-width="0.6"/>
<rect x="83.1" y="34.2" width="2.8" height="10" fill="#b4142e"/>
<rect x="104" y="34.2" width="33.5" height="10" fill="#8d8d8d" stroke="#7a7a7a" stroke-width="0.6"/>
<rect x="137.5" y="34.2" width="38.5" height="10" fill="#82f03a" stroke="#6cc832" stroke-width="0.5"/>
<rect x="177.1" y="34.4" width="24.5" height="10" fill="#c6c6c6" stroke="#a5a5a5" stroke-width="0.8"/>
<text transform="translate(2.90,32.50) scale(1,1.13)" font-size="8.0" text-anchor="start" font-weight="normal" fill="#1a1a1a" >5' LTR</text>
<text transform="translate(67.90,32.70) scale(1,1.13)" font-size="8.0" text-anchor="start" font-weight="normal" fill="#1a1a1a" >hU6</text>
<text transform="translate(71.80,20.20) scale(1,1.13)" font-size="8.0" text-anchor="start" font-weight="normal" fill="#1a1a1a" >shRNA</text>
<line x1="84.5" y1="21.2" x2="84.5" y2="29" stroke="#111" stroke-width="0.8"/>
<path d="M83.1,28 L85.9,28 L84.5,31.8 Z" fill="#111"/>
<text transform="translate(110.10,32.50) scale(1,1.13)" font-size="8.0" text-anchor="start" font-weight="normal" fill="#1a1a1a" >hPGK</text>
<text transform="translate(148.20,32.50) scale(1,1.13)" font-size="8.0" text-anchor="start" font-weight="normal" fill="#1a1a1a" >GFP</text>
<text transform="translate(170.20,32.60) scale(1,1.13)" font-size="7.75" text-anchor="start" font-weight="normal" fill="#1a1a1a" >SIN/3' LTR</text>
<text transform="translate(220.80,41.90) scale(1,1.13)" font-size="8.6" text-anchor="start" font-weight="normal" fill="#1a1a1a" >pLKO.1 GFP</text>
<text transform="translate(0.50,65.00) scale(1,1.0)" font-size="10.5" text-anchor="start" font-weight="bold" fill="#111" >B</text>
<line x1="9.4" y1="95" x2="9.4" y2="187.3" stroke="#222" stroke-width="0.9"/>
<path d="M7.6,96 L11.2,96 L9.4,91.6 Z" fill="#111"/>
<line x1="14" y1="191.4" x2="244" y2="191.4" stroke="#222" stroke-width="0.9"/>
<path d="M243.5,189.6 L243.5,193.2 L248,191.4 Z" fill="#111"/>
<text transform="translate(7.30,139.50) rotate(-90)" font-size="7.0" text-anchor="middle" fill="#1a1a1a" >CD34</text>
<text transform="translate(131.10,199.90) scale(1,1.13)" font-size="7.0" text-anchor="middle" font-weight="normal" fill="#1a1a1a" >GFP</text>
<text transform="translate(34.60,90.50) scale(1,1.13)" font-size="6.9" text-anchor="middle" font-weight="normal" fill="#1a1a1a" >SCR</text>
<use href="#flow00" x="14.50" y="91.50"/>
<rect x="14.50" y="91.50" width="42.0" height="42.0" fill="none" stroke="#6a6a6a" stroke-width="1"/>
<path d="M27.50,133.50 L27.50,98.50 L54.50,98.50 L54.50,133.50" fill="none" stroke="#6a6a6a" stroke-width="0.9"/>
<text transform="translate(53.40,103.50) scale(1,1.13)" font-size="5.6" text-anchor="end" font-weight="normal" fill="#222" >68.87</text>
<text transform="translate(81.60,90.50) scale(1,1.13)" font-size="6.9" text-anchor="middle" font-weight="normal" fill="#1a1a1a" >PCGF1</text>
<use href="#flow01" x="61.50" y="91.50"/>
<rect x="61.50" y="91.50" width="42.0" height="42.0" fill="none" stroke="#6a6a6a" stroke-width="1"/>
<path d="M74.50,133.50 L74.50,98.50 L101.50,98.50 L101.50,133.50" fill="none" stroke="#6a6a6a" stroke-width="0.9"/>
<text transform="translate(100.40,103.50) scale(1,1.13)" font-size="5.6" text-anchor="end" font-weight="normal" fill="#222" >73.75</text>
<text transform="translate(129.60,90.50) scale(1,1.13)" font-size="6.9" text-anchor="middle" font-weight="normal" fill="#1a1a1a" >PCGF2</text>
<use href="#flow02" x="109.50" y="91.50"/>
<rect x="109.50" y="91.50" width="42.0" height="42.0" fill="none" stroke="#6a6a6a" stroke-width="1"/>
<path d="M122.50,133.50 L122.50,98.50 L149.50,98.50 L149.50,133.50" fill="none" stroke="#6a6a6a" stroke-width="0.9"/>
<text transform="translate(148.40,103.50) scale(1,1.13)" font-size="5.6" text-anchor="end" font-weight="normal" fill="#222" >73.93</text>
<text transform="translate(177.60,90.50) scale(1,1.13)" font-size="6.9" text-anchor="middle" font-weight="normal" fill="#1a1a1a" >PCGF4</text>
<use href="#flow03" x="157.50" y="91.50"/>
<rect x="157.50" y="91.50" width="42.0" height="42.0" fill="none" stroke="#6a6a6a" stroke-width="1"/>
<path d="M170.50,133.50 L170.50,98.50 L197.50,98.50 L197.50,133.50" fill="none" stroke="#6a6a6a" stroke-width="0.9"/>
<text transform="translate(196.40,103.50) scale(1,1.13)" font-size="5.6" text-anchor="end" font-weight="normal" fill="#222" >62.99</text>
<text transform="translate(225.60,90.50) scale(1,1.13)" font-size="6.9" text-anchor="middle" font-weight="normal" fill="#1a1a1a" >PCGF6</text>
<use href="#flow04" x="205.50" y="91.50"/>
<rect x="205.50" y="91.50" width="42.0" height="42.0" fill="none" stroke="#6a6a6a" stroke-width="1"/>
<path d="M218.50,133.50 L218.50,98.50 L245.50,98.50 L245.50,133.50" fill="none" stroke="#6a6a6a" stroke-width="0.9"/>
<text transform="translate(244.40,103.50) scale(1,1.13)" font-size="5.6" text-anchor="end" font-weight="normal" fill="#222" >65.26</text>
<text transform="translate(34.60,143.50) scale(1,1.13)" font-size="6.9" text-anchor="middle" font-weight="normal" fill="#1a1a1a" >RING1B</text>
<use href="#flow10" x="14.50" y="144.50"/>
<rect x="14.50" y="144.50" width="42.0" height="42.0" fill="none" stroke="#6a6a6a" stroke-width="1"/>
<path d="M27.50,186.50 L27.50,151.50 L54.50,151.50 L54.50,186.50" fill="none" stroke="#6a6a6a" stroke-width="0.9"/>
<text transform="translate(53.40,156.50) scale(1,1.13)" font-size="5.6" text-anchor="end" font-weight="normal" fill="#222" >62.78</text>
<text transform="translate(81.60,143.50) scale(1,1.13)" font-size="6.9" text-anchor="middle" font-weight="normal" fill="#1a1a1a" >CBX2</text>
<use href="#flow11" x="61.50" y="144.50"/>
<rect x="61.50" y="144.50" width="42.0" height="42.0" fill="none" stroke="#6a6a6a" stroke-width="1"/>
<path d="M74.50,186.50 L74.50,151.50 L101.50,151.50 L101.50,186.50" fill="none" stroke="#6a6a6a" stroke-width="0.9"/>
<text transform="translate(100.40,156.50) scale(1,1.13)" font-size="5.6" text-anchor="end" font-weight="normal" fill="#222" >62.33</text>
<text transform="translate(129.60,143.50) scale(1,1.13)" font-size="6.9" text-anchor="middle" font-weight="normal" fill="#1a1a1a" >CBX4</text>
<use href="#flow12" x="109.50" y="144.50"/>
<rect x="109.50" y="144.50" width="42.0" height="42.0" fill="none" stroke="#6a6a6a" stroke-width="1"/>
<path d="M122.50,186.50 L122.50,151.50 L149.50,151.50 L149.50,186.50" fill="none" stroke="#6a6a6a" stroke-width="0.9"/>
<text transform="translate(148.40,156.50) scale(1,1.13)" font-size="5.6" text-anchor="end" font-weight="normal" fill="#222" >65.44</text>
<text transform="translate(177.60,143.50) scale(1,1.13)" font-size="6.9" text-anchor="middle" font-weight="normal" fill="#1a1a1a" >CBX7</text>
<use href="#flow13" x="157.50" y="144.50"/>
<rect x="157.50" y="144.50" width="42.0" height="42.0" fill="none" stroke="#6a6a6a" stroke-width="1"/>
<path d="M170.50,186.50 L170.50,151.50 L197.50,151.50 L197.50,186.50" fill="none" stroke="#6a6a6a" stroke-width="0.9"/>
<text transform="translate(196.40,156.50) scale(1,1.13)" font-size="5.6" text-anchor="end" font-weight="normal" fill="#222" >69.40</text>
<text transform="translate(225.60,143.50) scale(1,1.13)" font-size="6.9" text-anchor="middle" font-weight="normal" fill="#1a1a1a" >CBX8</text>
<use href="#flow14" x="205.50" y="144.50"/>
<rect x="205.50" y="144.50" width="42.0" height="42.0" fill="none" stroke="#6a6a6a" stroke-width="1"/>
<path d="M218.50,186.50 L218.50,151.50 L245.50,151.50 L245.50,186.50" fill="none" stroke="#6a6a6a" stroke-width="0.9"/>
<text transform="translate(244.40,156.50) scale(1,1.13)" font-size="5.6" text-anchor="end" font-weight="normal" fill="#222" >73.29</text>
<text transform="translate(257.40,65.00) scale(1,1.0)" font-size="10.5" text-anchor="start" font-weight="bold" fill="#111" >C</text>
<text transform="translate(275.40,142.50) rotate(-90)" font-size="8.0" text-anchor="middle" fill="#1a1a1a" >relative expression (norm. to RPL27)</text>
<line x1="293.50" y1="73.90" x2="293.50" y2="131.80" stroke="#9a9a9a" stroke-width="0.7"/>
<line x1="293.50" y1="131.80" x2="323.50" y2="131.80" stroke="#9a9a9a" stroke-width="0.9"/>
<line x1="292.20" y1="131.80" x2="293.50" y2="131.80" stroke="#9a9a9a" stroke-width="0.6"/>
<text transform="translate(292.00,131.60) scale(1,1.13)" font-size="6.4" text-anchor="end" font-weight="normal" fill="#222" >0</text>
<line x1="292.20" y1="123.53" x2="293.50" y2="123.53" stroke="#9a9a9a" stroke-width="0.6"/>
<text transform="translate(292.00,123.33) scale(1,1.13)" font-size="6.4" text-anchor="end" font-weight="normal" fill="#222" >0.2</text>
<line x1="292.20" y1="115.26" x2="293.50" y2="115.26" stroke="#9a9a9a" stroke-width="0.6"/>
<text transform="translate(292.00,115.06) scale(1,1.13)" font-size="6.4" text-anchor="end" font-weight="normal" fill="#222" >0.4</text>
<line x1="292.20" y1="106.98" x2="293.50" y2="106.98" stroke="#9a9a9a" stroke-width="0.6"/>
<text transform="translate(292.00,106.78) scale(1,1.13)" font-size="6.4" text-anchor="end" font-weight="normal" fill="#222" >0.6</text>
<line x1="292.20" y1="98.71" x2="293.50" y2="98.71" stroke="#9a9a9a" stroke-width="0.6"/>
<text transform="translate(292.00,98.51) scale(1,1.13)" font-size="6.4" text-anchor="end" font-weight="normal" fill="#222" >0.8</text>
<line x1="292.20" y1="90.44" x2="293.50" y2="90.44" stroke="#9a9a9a" stroke-width="0.6"/>
<text transform="translate(292.00,90.24) scale(1,1.13)" font-size="6.4" text-anchor="end" font-weight="normal" fill="#222" >1.0</text>
<line x1="292.20" y1="82.17" x2="293.50" y2="82.17" stroke="#9a9a9a" stroke-width="0.6"/>
<text transform="translate(292.00,81.97) scale(1,1.13)" font-size="6.4" text-anchor="end" font-weight="normal" fill="#222" >1.2</text>
<line x1="292.20" y1="73.90" x2="293.50" y2="73.90" stroke="#9a9a9a" stroke-width="0.6"/>
<text transform="translate(292.00,73.70) scale(1,1.13)" font-size="6.4" text-anchor="end" font-weight="normal" fill="#222" >1.4</text>
<rect x="298.20" y="90.44" width="5" height="41.36" fill="#6b6b6b"/>
<line x1="300.70" y1="90.44" x2="300.70" y2="82.17" stroke="#777" stroke-width="0.7"/>
<line x1="299.70" y1="82.17" x2="301.70" y2="82.17" stroke="#777" stroke-width="0.6"/>
<rect x="311.10" y="108.22" width="5" height="23.58" fill="#6b6b6b"/>
<line x1="313.60" y1="108.22" x2="313.60" y2="106.98" stroke="#777" stroke-width="0.7"/>
<line x1="312.60" y1="106.98" x2="314.60" y2="106.98" stroke="#777" stroke-width="0.6"/>
<text transform="translate(300.70,138.50) scale(1,1.13)" font-size="6.4" text-anchor="middle" font-weight="normal" fill="#222" >S</text>
<text transform="translate(313.60,138.50) scale(1,1.13)" font-size="6.4" text-anchor="middle" font-weight="normal" fill="#222" >K</text>
<text transform="translate(295.50,72.10) scale(1,1.13)" font-size="7.8" text-anchor="start" font-weight="normal" fill="#111" >PCGF1</text>
<line x1="343.10" y1="73.90" x2="343.10" y2="131.80" stroke="#9a9a9a" stroke-width="0.7"/>
<line x1="343.10" y1="131.80" x2="373.10" y2="131.80" stroke="#9a9a9a" stroke-width="0.9"/>
<line x1="341.80" y1="131.80" x2="343.10" y2="131.80" stroke="#9a9a9a" stroke-width="0.6"/>
<text transform="translate(341.60,131.60) scale(1,1.13)" font-size="6.4" text-anchor="end" font-weight="normal" fill="#222" >0</text>
<line x1="341.80" y1="123.53" x2="343.10" y2="123.53" stroke="#9a9a9a" stroke-width="0.6"/>
<text transform="translate(341.60,123.33) scale(1,1.13)" font-size="6.4" text-anchor="end" font-weight="normal" fill="#222" >0.2</text>
<line x1="341.80" y1="115.26" x2="343.10" y2="115.26" stroke="#9a9a9a" stroke-width="0.6"/>
<text transform="translate(341.60,115.06) scale(1,1.13)" font-size="6.4" text-anchor="end" font-weight="normal" fill="#222" >0.4</text>
<line x1="341.80" y1="106.98" x2="343.10" y2="106.98" stroke="#9a9a9a" stroke-width="0.6"/>
<text transform="translate(341.60,106.78) scale(1,1.13)" font-size="6.4" text-anchor="end" font-weight="normal" fill="#222" >0.6</text>
<line x1="341.80" y1="98.71" x2="343.10" y2="98.71" stroke="#9a9a9a" stroke-width="0.6"/>
<text transform="translate(341.60,98.51) scale(1,1.13)" font-size="6.4" text-anchor="end" font-weight="normal" fill="#222" >0.8</text>
<line x1="341.80" y1="90.44" x2="343.10" y2="90.44" stroke="#9a9a9a" stroke-width="0.6"/>
<text transform="translate(341.60,90.24) scale(1,1.13)" font-size="6.4" text-anchor="end" font-weight="normal" fill="#222" >1.0</text>
<line x1="341.80" y1="82.17" x2="343.10" y2="82.17" stroke="#9a9a9a" stroke-width="0.6"/>
<text transform="translate(341.60,81.97) scale(1,1.13)" font-size="6.4" text-anchor="end" font-weight="normal" fill="#222" >1.2</text>
<line x1="341.80" y1="73.90" x2="343.10" y2="73.90" stroke="#9a9a9a" stroke-width="0.6"/>
<text transform="translate(341.60,73.70) scale(1,1.13)" font-size="6.4" text-anchor="end" font-weight="normal" fill="#222" >1.4</text>
<rect x="347.80" y="90.44" width="5" height="41.36" fill="#6b6b6b"/>
<line x1="350.30" y1="90.44" x2="350.30" y2="84.24" stroke="#777" stroke-width="0.7"/>
<line x1="349.30" y1="84.24" x2="351.30" y2="84.24" stroke="#777" stroke-width="0.6"/>
<rect x="360.70" y="112.77" width="5" height="19.03" fill="#6b6b6b"/>
<line x1="363.20" y1="112.77" x2="363.20" y2="104.50" stroke="#777" stroke-width="0.7"/>
<line x1="362.20" y1="104.50" x2="364.20" y2="104.50" stroke="#777" stroke-width="0.6"/>
<text transform="translate(350.30,138.50) scale(1,1.13)" font-size="6.4" text-anchor="middle" font-weight="normal" fill="#222" >S</text>
<text transform="translate(363.20,138.50) scale(1,1.13)" font-size="6.4" text-anchor="middle" font-weight="normal" fill="#222" >K</text>
<text transform="translate(344.50,72.10) scale(1,1.13)" font-size="7.8" text-anchor="start" font-weight="normal" fill="#111" >PCGF2</text>
<line x1="391.70" y1="73.90" x2="391.70" y2="131.80" stroke="#9a9a9a" stroke-width="0.7"/>
<line x1="391.70" y1="131.80" x2="421.70" y2="131.80" stroke="#9a9a9a" stroke-width="0.9"/>
<line x1="390.40" y1="131.80" x2="391.70" y2="131.80" stroke="#9a9a9a" stroke-width="0.6"/>
<text transform="translate(390.20,131.60) scale(1,1.13)" font-size="6.4" text-anchor="end" font-weight="normal" fill="#222" >0</text>
<line x1="390.40" y1="123.53" x2="391.70" y2="123.53" stroke="#9a9a9a" stroke-width="0.6"/>
<text transform="translate(390.20,123.33) scale(1,1.13)" font-size="6.4" text-anchor="end" font-weight="normal" fill="#222" >0.2</text>
<line x1="390.40" y1="115.26" x2="391.70" y2="115.26" stroke="#9a9a9a" stroke-width="0.6"/>
<text transform="translate(390.20,115.06) scale(1,1.13)" font-size="6.4" text-anchor="end" font-weight="normal" fill="#222" >0.4</text>
<line x1="390.40" y1="106.98" x2="391.70" y2="106.98" stroke="#9a9a9a" stroke-width="0.6"/>
<text transform="translate(390.20,106.78) scale(1,1.13)" font-size="6.4" text-anchor="end" font-weight="normal" fill="#222" >0.6</text>
<line x1="390.40" y1="98.71" x2="391.70" y2="98.71" stroke="#9a9a9a" stroke-width="0.6"/>
<text transform="translate(390.20,98.51) scale(1,1.13)" font-size="6.4" text-anchor="end" font-weight="normal" fill="#222" >0.8</text>
<line x1="390.40" y1="90.44" x2="391.70" y2="90.44" stroke="#9a9a9a" stroke-width="0.6"/>
<text transform="translate(390.20,90.24) scale(1,1.13)" font-size="6.4" text-anchor="end" font-weight="normal" fill="#222" >1.0</text>
<line x1="390.40" y1="82.17" x2="391.70" y2="82.17" stroke="#9a9a9a" stroke-width="0.6"/>
<text transform="translate(390.20,81.97) scale(1,1.13)" font-size="6.4" text-anchor="end" font-weight="normal" fill="#222" >1.2</text>
<line x1="390.40" y1="73.90" x2="391.70" y2="73.90" stroke="#9a9a9a" stroke-width="0.6"/>
<text transform="translate(390.20,73.70) scale(1,1.13)" font-size="6.4" text-anchor="end" font-weight="normal" fill="#222" >1.4</text>
<rect x="396.40" y="90.44" width="5" height="41.36" fill="#6b6b6b"/>
<line x1="398.90" y1="90.44" x2="398.90" y2="85.06" stroke="#777" stroke-width="0.7"/>
<line x1="397.90" y1="85.06" x2="399.90" y2="85.06" stroke="#777" stroke-width="0.6"/>
<rect x="409.30" y="114.84" width="5" height="16.96" fill="#6b6b6b"/>
<line x1="411.80" y1="114.84" x2="411.80" y2="114.02" stroke="#777" stroke-width="0.7"/>
<line x1="410.80" y1="114.02" x2="412.80" y2="114.02" stroke="#777" stroke-width="0.6"/>
<text transform="translate(398.90,138.50) scale(1,1.13)" font-size="6.4" text-anchor="middle" font-weight="normal" fill="#222" >S</text>
<text transform="translate(411.80,138.50) scale(1,1.13)" font-size="6.4" text-anchor="middle" font-weight="normal" fill="#222" >K</text>
<text transform="translate(393.30,72.10) scale(1,1.13)" font-size="7.8" text-anchor="start" font-weight="normal" fill="#111" >PCGF4</text>
<line x1="440.50" y1="73.90" x2="440.50" y2="131.80" stroke="#9a9a9a" stroke-width="0.7"/>
<line x1="440.50" y1="131.80" x2="470.50" y2="131.80" stroke="#9a9a9a" stroke-width="0.9"/>
<line x1="439.20" y1="131.80" x2="440.50" y2="131.80" stroke="#9a9a9a" stroke-width="0.6"/>
<text transform="translate(439.00,131.60) scale(1,1.13)" font-size="6.4" text-anchor="end" font-weight="normal" fill="#222" >0</text>
<line x1="439.20" y1="123.53" x2="440.50" y2="123.53" stroke="#9a9a9a" stroke-width="0.6"/>
<text transform="translate(439.00,123.33) scale(1,1.13)" font-size="6.4" text-anchor="end" font-weight="normal" fill="#222" >0.2</text>
<line x1="439.20" y1="115.26" x2="440.50" y2="115.26" stroke="#9a9a9a" stroke-width="0.6"/>
<text transform="translate(439.00,115.06) scale(1,1.13)" font-size="6.4" text-anchor="end" font-weight="normal" fill="#222" >0.4</text>
<line x1="439.20" y1="106.98" x2="440.50" y2="106.98" stroke="#9a9a9a" stroke-width="0.6"/>
<text transform="translate(439.00,106.78) scale(1,1.13)" font-size="6.4" text-anchor="end" font-weight="normal" fill="#222" >0.6</text>
<line x1="439.20" y1="98.71" x2="440.50" y2="98.71" stroke="#9a9a9a" stroke-width="0.6"/>
<text transform="translate(439.00,98.51) scale(1,1.13)" font-size="6.4" text-anchor="end" font-weight="normal" fill="#222" >0.8</text>
<line x1="439.20" y1="90.44" x2="440.50" y2="90.44" stroke="#9a9a9a" stroke-width="0.6"/>
<text transform="translate(439.00,90.24) scale(1,1.13)" font-size="6.4" text-anchor="end" font-weight="normal" fill="#222" >1.0</text>
<line x1="439.20" y1="82.17" x2="440.50" y2="82.17" stroke="#9a9a9a" stroke-width="0.6"/>
<text transform="translate(439.00,81.97) scale(1,1.13)" font-size="6.4" text-anchor="end" font-weight="normal" fill="#222" >1.2</text>
<line x1="439.20" y1="73.90" x2="440.50" y2="73.90" stroke="#9a9a9a" stroke-width="0.6"/>
<text transform="translate(439.00,73.70) scale(1,1.13)" font-size="6.4" text-anchor="end" font-weight="normal" fill="#222" >1.4</text>
<rect x="445.20" y="90.44" width="5" height="41.36" fill="#6b6b6b"/>
<line x1="447.70" y1="90.44" x2="447.70" y2="83.82" stroke="#777" stroke-width="0.7"/>
<line x1="446.70" y1="83.82" x2="448.70" y2="83.82" stroke="#777" stroke-width="0.6"/>
<rect x="458.10" y="123.11" width="5" height="8.69" fill="#6b6b6b"/>
<line x1="460.60" y1="123.11" x2="460.60" y2="122.70" stroke="#777" stroke-width="0.7"/>
<line x1="459.60" y1="122.70" x2="461.60" y2="122.70" stroke="#777" stroke-width="0.6"/>
<text transform="translate(447.70,138.50) scale(1,1.13)" font-size="6.4" text-anchor="middle" font-weight="normal" fill="#222" >S</text>
<text transform="translate(460.60,138.50) scale(1,1.13)" font-size="6.4" text-anchor="middle" font-weight="normal" fill="#222" >K</text>
<text transform="translate(444.50,72.10) scale(1,1.13)" font-size="7.8" text-anchor="start" font-weight="normal" fill="#111" >PCGF6</text>
<line x1="488.30" y1="73.90" x2="488.30" y2="131.80" stroke="#9a9a9a" stroke-width="0.7"/>
<line x1="488.30" y1="131.80" x2="518.30" y2="131.80" stroke="#9a9a9a" stroke-width="0.9"/>
<line x1="487.00" y1="131.80" x2="488.30" y2="131.80" stroke="#9a9a9a" stroke-width="0.6"/>
<text transform="translate(486.80,131.60) scale(1,1.13)" font-size="6.4" text-anchor="end" font-weight="normal" fill="#222" >0</text>
<line x1="487.00" y1="123.53" x2="488.30" y2="123.53" stroke="#9a9a9a" stroke-width="0.6"/>
<text transform="translate(486.80,123.33) scale(1,1.13)" font-size="6.4" text-anchor="end" font-weight="normal" fill="#222" >0.2</text>
<line x1="487.00" y1="115.26" x2="488.30" y2="115.26" stroke="#9a9a9a" stroke-width="0.6"/>
<text transform="translate(486.80,115.06) scale(1,1.13)" font-size="6.4" text-anchor="end" font-weight="normal" fill="#222" >0.4</text>
<line x1="487.00" y1="106.98" x2="488.30" y2="106.98" stroke="#9a9a9a" stroke-width="0.6"/>
<text transform="translate(486.80,106.78) scale(1,1.13)" font-size="6.4" text-anchor="end" font-weight="normal" fill="#222" >0.6</text>
<line x1="487.00" y1="98.71" x2="488.30" y2="98.71" stroke="#9a9a9a" stroke-width="0.6"/>
<text transform="translate(486.80,98.51) scale(1,1.13)" font-size="6.4" text-anchor="end" font-weight="normal" fill="#222" >0.8</text>
<line x1="487.00" y1="90.44" x2="488.30" y2="90.44" stroke="#9a9a9a" stroke-width="0.6"/>
<text transform="translate(486.80,90.24) scale(1,1.13)" font-size="6.4" text-anchor="end" font-weight="normal" fill="#222" >1.0</text>
<line x1="487.00" y1="82.17" x2="488.30" y2="82.17" stroke="#9a9a9a" stroke-width="0.6"/>
<text transform="translate(486.80,81.97) scale(1,1.13)" font-size="6.4" text-anchor="end" font-weight="normal" fill="#222" >1.2</text>
<line x1="487.00" y1="73.90" x2="488.30" y2="73.90" stroke="#9a9a9a" stroke-width="0.6"/>
<text transform="translate(486.80,73.70) scale(1,1.13)" font-size="6.4" text-anchor="end" font-weight="normal" fill="#222" >1.4</text>
<rect x="493.00" y="91.27" width="5" height="40.53" fill="#6b6b6b"/>
<line x1="495.50" y1="91.27" x2="495.50" y2="87.13" stroke="#777" stroke-width="0.7"/>
<line x1="494.50" y1="87.13" x2="496.50" y2="87.13" stroke="#777" stroke-width="0.6"/>
<rect x="505.90" y="121.87" width="5" height="9.93" fill="#6b6b6b"/>
<line x1="508.40" y1="121.87" x2="508.40" y2="119.39" stroke="#777" stroke-width="0.7"/>
<line x1="507.40" y1="119.39" x2="509.40" y2="119.39" stroke="#777" stroke-width="0.6"/>
<text transform="translate(495.50,138.50) scale(1,1.13)" font-size="6.4" text-anchor="middle" font-weight="normal" fill="#222" >S</text>
<text transform="translate(508.40,138.50) scale(1,1.13)" font-size="6.4" text-anchor="middle" font-weight="normal" fill="#222" >K</text>
<text transform="translate(489.10,72.10) scale(1,1.13)" font-size="7.8" text-anchor="start" font-weight="normal" fill="#111" >RING1B</text>
<line x1="293.00" y1="154.20" x2="293.00" y2="212.10" stroke="#9a9a9a" stroke-width="0.7"/>
<line x1="293.00" y1="212.10" x2="323.00" y2="212.10" stroke="#9a9a9a" stroke-width="0.9"/>
<line x1="291.70" y1="212.10" x2="293.00" y2="212.10" stroke="#9a9a9a" stroke-width="0.6"/>
<text transform="translate(291.50,211.90) scale(1,1.13)" font-size="6.4" text-anchor="end" font-weight="normal" fill="#222" >0</text>
<line x1="291.70" y1="203.83" x2="293.00" y2="203.83" stroke="#9a9a9a" stroke-width="0.6"/>
<text transform="translate(291.50,203.63) scale(1,1.13)" font-size="6.4" text-anchor="end" font-weight="normal" fill="#222" >0.2</text>
<line x1="291.70" y1="195.56" x2="293.00" y2="195.56" stroke="#9a9a9a" stroke-width="0.6"/>
<text transform="translate(291.50,195.36) scale(1,1.13)" font-size="6.4" text-anchor="end" font-weight="normal" fill="#222" >0.4</text>
<line x1="291.70" y1="187.28" x2="293.00" y2="187.28" stroke="#9a9a9a" stroke-width="0.6"/>
<text transform="translate(291.50,187.08) scale(1,1.13)" font-size="6.4" text-anchor="end" font-weight="normal" fill="#222" >0.6</text>
<line x1="291.70" y1="179.01" x2="293.00" y2="179.01" stroke="#9a9a9a" stroke-width="0.6"/>
<text transform="translate(291.50,178.81) scale(1,1.13)" font-size="6.4" text-anchor="end" font-weight="normal" fill="#222" >0.8</text>
<line x1="291.70" y1="170.74" x2="293.00" y2="170.74" stroke="#9a9a9a" stroke-width="0.6"/>
<text transform="translate(291.50,170.54) scale(1,1.13)" font-size="6.4" text-anchor="end" font-weight="normal" fill="#222" >1.0</text>
<line x1="291.70" y1="162.47" x2="293.00" y2="162.47" stroke="#9a9a9a" stroke-width="0.6"/>
<text transform="translate(291.50,162.27) scale(1,1.13)" font-size="6.4" text-anchor="end" font-weight="normal" fill="#222" >1.2</text>
<line x1="291.70" y1="154.20" x2="293.00" y2="154.20" stroke="#9a9a9a" stroke-width="0.6"/>
<text transform="translate(291.50,154.00) scale(1,1.13)" font-size="6.4" text-anchor="end" font-weight="normal" fill="#222" >1.4</text>
<rect x="297.70" y="170.74" width="5" height="41.36" fill="#6b6b6b"/>
<line x1="300.20" y1="170.74" x2="300.20" y2="163.71" stroke="#777" stroke-width="0.7"/>
<line x1="299.20" y1="163.71" x2="301.20" y2="163.71" stroke="#777" stroke-width="0.6"/>
<rect x="310.60" y="191.01" width="5" height="21.09" fill="#6b6b6b"/>
<line x1="313.10" y1="191.01" x2="313.10" y2="190.59" stroke="#777" stroke-width="0.7"/>
<line x1="312.10" y1="190.59" x2="314.10" y2="190.59" stroke="#777" stroke-width="0.6"/>
<text transform="translate(300.20,218.80) scale(1,1.13)" font-size="6.4" text-anchor="middle" font-weight="normal" fill="#222" >S</text>
<text transform="translate(313.10,218.80) scale(1,1.13)" font-size="6.4" text-anchor="middle" font-weight="normal" fill="#222" >K</text>
<text transform="translate(296.70,152.70) scale(1,1.13)" font-size="7.8" text-anchor="start" font-weight="normal" fill="#111" >CBX2</text>
<line x1="343.00" y1="154.20" x2="343.00" y2="212.10" stroke="#9a9a9a" stroke-width="0.7"/>
<line x1="343.00" y1="212.10" x2="373.00" y2="212.10" stroke="#9a9a9a" stroke-width="0.9"/>
<line x1="341.70" y1="212.10" x2="343.00" y2="212.10" stroke="#9a9a9a" stroke-width="0.6"/>
<text transform="translate(341.50,211.90) scale(1,1.13)" font-size="6.4" text-anchor="end" font-weight="normal" fill="#222" >0</text>
<line x1="341.70" y1="203.83" x2="343.00" y2="203.83" stroke="#9a9a9a" stroke-width="0.6"/>
<text transform="translate(341.50,203.63) scale(1,1.13)" font-size="6.4" text-anchor="end" font-weight="normal" fill="#222" >0.2</text>
<line x1="341.70" y1="195.56" x2="343.00" y2="195.56" stroke="#9a9a9a" stroke-width="0.6"/>
<text transform="translate(341.50,195.36) scale(1,1.13)" font-size="6.4" text-anchor="end" font-weight="normal" fill="#222" >0.4</text>
<line x1="341.70" y1="187.28" x2="343.00" y2="187.28" stroke="#9a9a9a" stroke-width="0.6"/>
<text transform="translate(341.50,187.08) scale(1,1.13)" font-size="6.4" text-anchor="end" font-weight="normal" fill="#222" >0.6</text>
<line x1="341.70" y1="179.01" x2="343.00" y2="179.01" stroke="#9a9a9a" stroke-width="0.6"/>
<text transform="translate(341.50,178.81) scale(1,1.13)" font-size="6.4" text-anchor="end" font-weight="normal" fill="#222" >0.8</text>
<line x1="341.70" y1="170.74" x2="343.00" y2="170.74" stroke="#9a9a9a" stroke-width="0.6"/>
<text transform="translate(341.50,170.54) scale(1,1.13)" font-size="6.4" text-anchor="end" font-weight="normal" fill="#222" >1.0</text>
<line x1="341.70" y1="162.47" x2="343.00" y2="162.47" stroke="#9a9a9a" stroke-width="0.6"/>
<text transform="translate(341.50,162.27) scale(1,1.13)" font-size="6.4" text-anchor="end" font-weight="normal" fill="#222" >1.2</text>
<line x1="341.70" y1="154.20" x2="343.00" y2="154.20" stroke="#9a9a9a" stroke-width="0.6"/>
<text transform="translate(341.50,154.00) scale(1,1.13)" font-size="6.4" text-anchor="end" font-weight="normal" fill="#222" >1.4</text>
<rect x="347.70" y="170.74" width="5" height="41.36" fill="#6b6b6b"/>
<line x1="350.20" y1="170.74" x2="350.20" y2="167.43" stroke="#777" stroke-width="0.7"/>
<line x1="349.20" y1="167.43" x2="351.20" y2="167.43" stroke="#777" stroke-width="0.6"/>
<rect x="360.60" y="183.98" width="5" height="28.12" fill="#6b6b6b"/>
<line x1="363.10" y1="183.98" x2="363.10" y2="181.08" stroke="#777" stroke-width="0.7"/>
<line x1="362.10" y1="181.08" x2="364.10" y2="181.08" stroke="#777" stroke-width="0.6"/>
<text transform="translate(350.20,218.80) scale(1,1.13)" font-size="6.4" text-anchor="middle" font-weight="normal" fill="#222" >S</text>
<text transform="translate(363.10,218.80) scale(1,1.13)" font-size="6.4" text-anchor="middle" font-weight="normal" fill="#222" >K</text>
<text transform="translate(345.60,152.70) scale(1,1.13)" font-size="7.8" text-anchor="start" font-weight="normal" fill="#111" >CBX4</text>
<line x1="392.00" y1="154.20" x2="392.00" y2="212.10" stroke="#9a9a9a" stroke-width="0.7"/>
<line x1="392.00" y1="212.10" x2="422.00" y2="212.10" stroke="#9a9a9a" stroke-width="0.9"/>
<line x1="390.70" y1="212.10" x2="392.00" y2="212.10" stroke="#9a9a9a" stroke-width="0.6"/>
<text transform="translate(390.50,211.90) scale(1,1.13)" font-size="6.4" text-anchor="end" font-weight="normal" fill="#222" >0</text>
<line x1="390.70" y1="203.83" x2="392.00" y2="203.83" stroke="#9a9a9a" stroke-width="0.6"/>
<text transform="translate(390.50,203.63) scale(1,1.13)" font-size="6.4" text-anchor="end" font-weight="normal" fill="#222" >0.2</text>
<line x1="390.70" y1="195.56" x2="392.00" y2="195.56" stroke="#9a9a9a" stroke-width="0.6"/>
<text transform="translate(390.50,195.36) scale(1,1.13)" font-size="6.4" text-anchor="end" font-weight="normal" fill="#222" >0.4</text>
<line x1="390.70" y1="187.28" x2="392.00" y2="187.28" stroke="#9a9a9a" stroke-width="0.6"/>
<text transform="translate(390.50,187.08) scale(1,1.13)" font-size="6.4" text-anchor="end" font-weight="normal" fill="#222" >0.6</text>
<line x1="390.70" y1="179.01" x2="392.00" y2="179.01" stroke="#9a9a9a" stroke-width="0.6"/>
<text transform="translate(390.50,178.81) scale(1,1.13)" font-size="6.4" text-anchor="end" font-weight="normal" fill="#222" >0.8</text>
<line x1="390.70" y1="170.74" x2="392.00" y2="170.74" stroke="#9a9a9a" stroke-width="0.6"/>
<text transform="translate(390.50,170.54) scale(1,1.13)" font-size="6.4" text-anchor="end" font-weight="normal" fill="#222" >1.0</text>
<line x1="390.70" y1="162.47" x2="392.00" y2="162.47" stroke="#9a9a9a" stroke-width="0.6"/>
<text transform="translate(390.50,162.27) scale(1,1.13)" font-size="6.4" text-anchor="end" font-weight="normal" fill="#222" >1.2</text>
<line x1="390.70" y1="154.20" x2="392.00" y2="154.20" stroke="#9a9a9a" stroke-width="0.6"/>
<text transform="translate(390.50,154.00) scale(1,1.13)" font-size="6.4" text-anchor="end" font-weight="normal" fill="#222" >1.4</text>
<rect x="396.70" y="171.15" width="5" height="40.95" fill="#6b6b6b"/>
<line x1="399.20" y1="171.15" x2="399.20" y2="169.09" stroke="#777" stroke-width="0.7"/>
<line x1="398.20" y1="169.09" x2="400.20" y2="169.09" stroke="#777" stroke-width="0.6"/>
<rect x="409.60" y="188.52" width="5" height="23.58" fill="#6b6b6b"/>
<line x1="412.10" y1="188.52" x2="412.10" y2="183.98" stroke="#777" stroke-width="0.7"/>
<line x1="411.10" y1="183.98" x2="413.10" y2="183.98" stroke="#777" stroke-width="0.6"/>
<text transform="translate(399.20,218.80) scale(1,1.13)" font-size="6.4" text-anchor="middle" font-weight="normal" fill="#222" >S</text>
<text transform="translate(412.10,218.80) scale(1,1.13)" font-size="6.4" text-anchor="middle" font-weight="normal" fill="#222" >K</text>
<text transform="translate(395.30,152.70) scale(1,1.13)" font-size="7.8" text-anchor="start" font-weight="normal" fill="#111" >CBX7</text>
<line x1="441.00" y1="154.20" x2="441.00" y2="212.10" stroke="#9a9a9a" stroke-width="0.7"/>
<line x1="441.00" y1="212.10" x2="471.00" y2="212.10" stroke="#9a9a9a" stroke-width="0.9"/>
<line x1="439.70" y1="212.10" x2="441.00" y2="212.10" stroke="#9a9a9a" stroke-width="0.6"/>
<text transform="translate(439.50,211.90) scale(1,1.13)" font-size="6.4" text-anchor="end" font-weight="normal" fill="#222" >0</text>
<line x1="439.70" y1="203.83" x2="441.00" y2="203.83" stroke="#9a9a9a" stroke-width="0.6"/>
<text transform="translate(439.50,203.63) scale(1,1.13)" font-size="6.4" text-anchor="end" font-weight="normal" fill="#222" >0.2</text>
<line x1="439.70" y1="195.56" x2="441.00" y2="195.56" stroke="#9a9a9a" stroke-width="0.6"/>
<text transform="translate(439.50,195.36) scale(1,1.13)" font-size="6.4" text-anchor="end" font-weight="normal" fill="#222" >0.4</text>
<line x1="439.70" y1="187.28" x2="441.00" y2="187.28" stroke="#9a9a9a" stroke-width="0.6"/>
<text transform="translate(439.50,187.08) scale(1,1.13)" font-size="6.4" text-anchor="end" font-weight="normal" fill="#222" >0.6</text>
<line x1="439.70" y1="179.01" x2="441.00" y2="179.01" stroke="#9a9a9a" stroke-width="0.6"/>
<text transform="translate(439.50,178.81) scale(1,1.13)" font-size="6.4" text-anchor="end" font-weight="normal" fill="#222" >0.8</text>
<line x1="439.70" y1="170.74" x2="441.00" y2="170.74" stroke="#9a9a9a" stroke-width="0.6"/>
<text transform="translate(439.50,170.54) scale(1,1.13)" font-size="6.4" text-anchor="end" font-weight="normal" fill="#222" >1.0</text>
<line x1="439.70" y1="162.47" x2="441.00" y2="162.47" stroke="#9a9a9a" stroke-width="0.6"/>
<text transform="translate(439.50,162.27) scale(1,1.13)" font-size="6.4" text-anchor="end" font-weight="normal" fill="#222" >1.2</text>
<line x1="439.70" y1="154.20" x2="441.00" y2="154.20" stroke="#9a9a9a" stroke-width="0.6"/>
<text transform="translate(439.50,154.00) scale(1,1.13)" font-size="6.4" text-anchor="end" font-weight="normal" fill="#222" >1.4</text>
<rect x="445.70" y="171.15" width="5" height="40.95" fill="#6b6b6b"/>
<line x1="448.20" y1="171.15" x2="448.20" y2="169.09" stroke="#777" stroke-width="0.7"/>
<line x1="447.20" y1="169.09" x2="449.20" y2="169.09" stroke="#777" stroke-width="0.6"/>
<rect x="458.60" y="192.66" width="5" height="19.44" fill="#6b6b6b"/>
<line x1="461.10" y1="192.66" x2="461.10" y2="190.59" stroke="#777" stroke-width="0.7"/>
<line x1="460.10" y1="190.59" x2="462.10" y2="190.59" stroke="#777" stroke-width="0.6"/>
<text transform="translate(448.20,218.80) scale(1,1.13)" font-size="6.4" text-anchor="middle" font-weight="normal" fill="#222" >S</text>
<text transform="translate(461.10,218.80) scale(1,1.13)" font-size="6.4" text-anchor="middle" font-weight="normal" fill="#222" >K</text>
<text transform="translate(444.20,152.70) scale(1,1.13)" font-size="7.8" text-anchor="start" font-weight="normal" fill="#111" >CBX8</text>
<text transform="translate(0.30,239.10) scale(1,1.0)" font-size="10.5" text-anchor="start" font-weight="bold" fill="#111" >D</text>
<line x1="31.5" y1="245.00" x2="31.5" y2="357.5" stroke="#333" stroke-width="0.8"/>
<line x1="31.5" y1="357.5" x2="205" y2="357.5" stroke="#333" stroke-width="0.8"/>
<line x1="30.00" y1="357.50" x2="31.5" y2="357.50" stroke="#333" stroke-width="0.6"/>
<text transform="translate(28.00,357.70) scale(1,1.13)" font-size="7.0" text-anchor="end" font-weight="normal" fill="#222" >0</text>
<line x1="30.00" y1="346.25" x2="31.5" y2="346.25" stroke="#333" stroke-width="0.6"/>
<text transform="translate(28.00,346.45) scale(1,1.13)" font-size="7.0" text-anchor="end" font-weight="normal" fill="#222" >0.2</text>
<line x1="30.00" y1="335.00" x2="31.5" y2="335.00" stroke="#333" stroke-width="0.6"/>
<text transform="translate(28.00,335.20) scale(1,1.13)" font-size="7.0" text-anchor="end" font-weight="normal" fill="#222" >0.4</text>
<line x1="30.00" y1="323.75" x2="31.5" y2="323.75" stroke="#333" stroke-width="0.6"/>
<text transform="translate(28.00,323.95) scale(1,1.13)" font-size="7.0" text-anchor="end" font-weight="normal" fill="#222" >0.6</text>
<line x1="30.00" y1="312.50" x2="31.5" y2="312.50" stroke="#333" stroke-width="0.6"/>
<text transform="translate(28.00,312.70) scale(1,1.13)" font-size="7.0" text-anchor="end" font-weight="normal" fill="#222" >0.8</text>
<line x1="30.00" y1="301.25" x2="31.5" y2="301.25" stroke="#333" stroke-width="0.6"/>
<text transform="translate(28.00,301.45) scale(1,1.13)" font-size="7.0" text-anchor="end" font-weight="normal" fill="#222" >1.0</text>
<line x1="30.00" y1="290.00" x2="31.5" y2="290.00" stroke="#333" stroke-width="0.6"/>
<text transform="translate(28.00,290.20) scale(1,1.13)" font-size="7.0" text-anchor="end" font-weight="normal" fill="#222" >1.2</text>
<line x1="30.00" y1="278.75" x2="31.5" y2="278.75" stroke="#333" stroke-width="0.6"/>
<text transform="translate(28.00,278.95) scale(1,1.13)" font-size="7.0" text-anchor="end" font-weight="normal" fill="#222" >1.4</text>
<line x1="30.00" y1="267.50" x2="31.5" y2="267.50" stroke="#333" stroke-width="0.6"/>
<text transform="translate(28.00,267.70) scale(1,1.13)" font-size="7.0" text-anchor="end" font-weight="normal" fill="#222" >1.6</text>
<line x1="30.00" y1="256.25" x2="31.5" y2="256.25" stroke="#333" stroke-width="0.6"/>
<text transform="translate(28.00,256.45) scale(1,1.13)" font-size="7.0" text-anchor="end" font-weight="normal" fill="#222" >1.8</text>
<line x1="30.00" y1="245.00" x2="31.5" y2="245.00" stroke="#333" stroke-width="0.6"/>
<text transform="translate(28.00,245.20) scale(1,1.13)" font-size="7.0" text-anchor="end" font-weight="normal" fill="#222" >2.0</text>
<line x1="65.80" y1="357.5" x2="65.80" y2="359.10" stroke="#333" stroke-width="0.6"/>
<text transform="translate(65.80,367.40) scale(1,1.13)" font-size="7.0" text-anchor="middle" font-weight="normal" fill="#222" >1</text>
<line x1="100.40" y1="357.5" x2="100.40" y2="359.10" stroke="#333" stroke-width="0.6"/>
<text transform="translate(100.40,367.40) scale(1,1.13)" font-size="7.0" text-anchor="middle" font-weight="normal" fill="#222" >2</text>
<line x1="135.00" y1="357.5" x2="135.00" y2="359.10" stroke="#333" stroke-width="0.6"/>
<text transform="translate(135.00,367.40) scale(1,1.13)" font-size="7.0" text-anchor="middle" font-weight="normal" fill="#222" >3</text>
<line x1="169.60" y1="357.5" x2="169.60" y2="359.10" stroke="#333" stroke-width="0.6"/>
<text transform="translate(169.60,367.40) scale(1,1.13)" font-size="7.0" text-anchor="middle" font-weight="normal" fill="#222" >4</text>
<line x1="204.20" y1="357.5" x2="204.20" y2="359.10" stroke="#333" stroke-width="0.6"/>
<text transform="translate(204.20,367.40) scale(1,1.13)" font-size="7.0" text-anchor="middle" font-weight="normal" fill="#222" >5</text>
<text transform="translate(31.70,372.70) scale(1,1.13)" font-size="7.0" text-anchor="middle" font-weight="normal" fill="#222" >0</text>
<text transform="translate(117.80,374.90) scale(1,1.0)" font-size="8.3" text-anchor="middle" font-weight="normal" fill="#111" >week</text>
<text transform="translate(13.6,300.0) rotate(-90)" font-size="8.5" text-anchor="middle" fill="#111">cum. growth GFP<tspan font-size="5" dy="-3">+</tspan><tspan dy="3"> cells (x10</tspan><tspan font-size="5" dy="-3">6</tspan><tspan dy="3">)</tspan></text>
<polyline points="31.20,355.80 65.80,339.00 100.40,312.60 135.00,268.50 169.60,283.00 204.20,301.00" fill="none" stroke="#bcc6dc" stroke-width="1.1"/>
<polyline points="31.20,355.80 65.80,339.60 100.40,320.60 135.00,276.30 169.60,283.80 204.20,281.40" fill="none" stroke="#8ac8ec" stroke-width="1.1"/>
<polyline points="31.20,355.80 65.80,341.30 100.40,327.40 135.00,308.80 169.60,309.50 204.20,319.90" fill="none" stroke="#5466d0" stroke-width="1.1"/>
<polyline points="31.20,355.80 65.80,347.00 100.40,342.50 135.00,337.10 169.60,342.60 204.20,343.90" fill="none" stroke="#1420c0" stroke-width="1.1"/>
<polyline points="31.20,355.80 65.80,333.00 100.40,307.40 135.00,265.20 169.60,259.80 204.20,271.00" fill="none" stroke="#dac87a" stroke-width="1.1"/>
<polyline points="31.20,355.80 65.80,333.10 100.40,332.10 135.00,316.40 169.60,317.50 204.20,328.00" fill="none" stroke="#d49a4c" stroke-width="1.1"/>
<polyline points="31.20,355.80 65.80,341.00 100.40,345.30 135.00,340.10 169.60,343.70 204.20,349.00" fill="none" stroke="#d07a3a" stroke-width="1.1"/>
<polyline points="31.20,355.80 65.80,344.50 100.40,329.90 135.00,303.20 169.60,298.00 204.20,301.80" fill="none" stroke="#c8363e" stroke-width="1.1"/>
<polyline points="31.20,355.80 65.80,336.40 100.40,320.80 135.00,266.60 169.60,249.90 204.20,279.00" fill="none" stroke="#111111" stroke-width="1.1"/>
<polyline points="31.20,355.80 65.80,344.00 100.40,339.60 135.00,320.00 169.60,327.50 204.20,324.00" fill="none" stroke="#8ae048" stroke-width="1.1"/>
<circle cx="31.20" cy="355.80" r="0.95" fill="#bcc6dc"/>
<circle cx="65.80" cy="339.00" r="0.95" fill="#bcc6dc"/>
<circle cx="100.40" cy="312.60" r="0.95" fill="#bcc6dc"/>
<circle cx="135.00" cy="268.50" r="0.95" fill="#bcc6dc"/>
<circle cx="169.60" cy="283.00" r="0.95" fill="#bcc6dc"/>
<circle cx="204.20" cy="301.00" r="0.95" fill="#bcc6dc"/>
<circle cx="31.20" cy="355.80" r="0.95" fill="#8ac8ec"/>
<circle cx="65.80" cy="339.60" r="0.95" fill="#8ac8ec"/>
<circle cx="100.40" cy="320.60" r="0.95" fill="#8ac8ec"/>
<circle cx="135.00" cy="276.30" r="0.95" fill="#8ac8ec"/>
<circle cx="169.60" cy="283.80" r="0.95" fill="#8ac8ec"/>
<circle cx="204.20" cy="281.40" r="0.95" fill="#8ac8ec"/>
<circle cx="31.20" cy="355.80" r="0.95" fill="#5466d0"/>
<circle cx="65.80" cy="341.30" r="0.95" fill="#5466d0"/>
<circle cx="100.40" cy="327.40" r="0.95" fill="#5466d0"/>
<circle cx="135.00" cy="308.80" r="0.95" fill="#5466d0"/>
<circle cx="169.60" cy="309.50" r="0.95" fill="#5466d0"/>
<circle cx="204.20" cy="319.90" r="0.95" fill="#5466d0"/>
<circle cx="31.20" cy="355.80" r="1.75" fill="#1420c0"/>
<circle cx="65.80" cy="347.00" r="1.75" fill="#1420c0"/>
<circle cx="100.40" cy="342.50" r="1.75" fill="#1420c0"/>
<circle cx="135.00" cy="337.10" r="1.75" fill="#1420c0"/>
<circle cx="169.60" cy="342.60" r="1.75" fill="#1420c0"/>
<circle cx="204.20" cy="343.90" r="1.75" fill="#1420c0"/>
<line x1="29.60" y1="355.80" x2="32.80" y2="355.80" stroke="#dac87a" stroke-width="1.5"/>
<line x1="64.20" y1="333.00" x2="67.40" y2="333.00" stroke="#dac87a" stroke-width="1.5"/>
<line x1="98.80" y1="307.40" x2="102.00" y2="307.40" stroke="#dac87a" stroke-width="1.5"/>
<line x1="133.40" y1="265.20" x2="136.60" y2="265.20" stroke="#dac87a" stroke-width="1.5"/>
<line x1="168.00" y1="259.80" x2="171.20" y2="259.80" stroke="#dac87a" stroke-width="1.5"/>
<line x1="202.60" y1="271.00" x2="205.80" y2="271.00" stroke="#dac87a" stroke-width="1.5"/>
<circle cx="31.20" cy="355.80" r="1.45" fill="#fff" stroke="#d49a4c" stroke-width="0.75"/>
<circle cx="65.80" cy="333.10" r="1.45" fill="#fff" stroke="#d49a4c" stroke-width="0.75"/>
<circle cx="100.40" cy="332.10" r="1.45" fill="#fff" stroke="#d49a4c" stroke-width="0.75"/>
<circle cx="135.00" cy="316.40" r="1.45" fill="#fff" stroke="#d49a4c" stroke-width="0.75"/>
<circle cx="169.60" cy="317.50" r="1.45" fill="#fff" stroke="#d49a4c" stroke-width="0.75"/>
<circle cx="204.20" cy="328.00" r="1.45" fill="#fff" stroke="#d49a4c" stroke-width="0.75"/>
<path d="M29.60,357.00 L32.80,357.00 L31.20,354.30 Z" fill="#fff" stroke="#d07a3a" stroke-width="0.75"/>
<path d="M64.20,342.20 L67.40,342.20 L65.80,339.50 Z" fill="#fff" stroke="#d07a3a" stroke-width="0.75"/>
<path d="M98.80,346.50 L102.00,346.50 L100.40,343.80 Z" fill="#fff" stroke="#d07a3a" stroke-width="0.75"/>
<path d="M133.40,341.30 L136.60,341.30 L135.00,338.60 Z" fill="#fff" stroke="#d07a3a" stroke-width="0.75"/>
<path d="M168.00,344.90 L171.20,344.90 L169.60,342.20 Z" fill="#fff" stroke="#d07a3a" stroke-width="0.75"/>
<path d="M202.60,350.20 L205.80,350.20 L204.20,347.50 Z" fill="#fff" stroke="#d07a3a" stroke-width="0.75"/>
<rect x="29.85" y="354.45" width="2.7" height="2.7" fill="#fff" stroke="#c8363e" stroke-width="0.85"/>
<rect x="64.45" y="343.15" width="2.7" height="2.7" fill="#fff" stroke="#c8363e" stroke-width="0.85"/>
<rect x="99.05" y="328.55" width="2.7" height="2.7" fill="#fff" stroke="#c8363e" stroke-width="0.85"/>
<rect x="133.65" y="301.85" width="2.7" height="2.7" fill="#fff" stroke="#c8363e" stroke-width="0.85"/>
<rect x="168.25" y="296.65" width="2.7" height="2.7" fill="#fff" stroke="#c8363e" stroke-width="0.85"/>
<rect x="202.85" y="300.45" width="2.7" height="2.7" fill="#fff" stroke="#c8363e" stroke-width="0.85"/>
<circle cx="31.20" cy="355.80" r="1.45" fill="#111111"/>
<circle cx="65.80" cy="336.40" r="1.45" fill="#111111"/>
<circle cx="100.40" cy="320.80" r="1.45" fill="#111111"/>
<circle cx="135.00" cy="266.60" r="1.45" fill="#111111"/>
<circle cx="169.60" cy="249.90" r="1.45" fill="#111111"/>
<circle cx="204.20" cy="279.00" r="1.45" fill="#111111"/>
<path d="M29.10,355.80 L31.20,353.70 L33.30,355.80 L31.20,357.90 Z" fill="#8ae048" opacity="0.9"/>
<path d="M63.70,344.00 L65.80,341.90 L67.90,344.00 L65.80,346.10 Z" fill="#8ae048" opacity="0.9"/>
<path d="M98.30,339.60 L100.40,337.50 L102.50,339.60 L100.40,341.70 Z" fill="#8ae048" opacity="0.9"/>
<path d="M132.90,320.00 L135.00,317.90 L137.10,320.00 L135.00,322.10 Z" fill="#8ae048" opacity="0.9"/>
<path d="M167.50,327.50 L169.60,325.40 L171.70,327.50 L169.60,329.60 Z" fill="#8ae048" opacity="0.9"/>
<path d="M202.10,324.00 L204.20,321.90 L206.30,324.00 L204.20,326.10 Z" fill="#8ae048" opacity="0.9"/>
<line x1="214.80" y1="252.10" x2="223.20" y2="252.10" stroke="#111111" stroke-width="1.2"/>
<circle cx="218.80" cy="252.10" r="1.45" fill="#111111"/>
<text transform="translate(225.40,254.70) scale(1,1.03)" font-size="7.1" text-anchor="start" font-weight="normal" fill="#111" >SCR</text>
<line x1="214.80" y1="263.10" x2="223.20" y2="263.10" stroke="#c8363e" stroke-width="1.2"/>
<rect x="217.45" y="261.75" width="2.7" height="2.7" fill="#fff" stroke="#c8363e" stroke-width="0.85"/>
<text transform="translate(225.40,265.70) scale(1,1.03)" font-size="7.1" text-anchor="start" font-weight="normal" fill="#111" >PCGF1</text>
<line x1="214.80" y1="274.10" x2="223.20" y2="274.10" stroke="#d07a3a" stroke-width="1.2"/>
<path d="M217.20,275.30 L220.40,275.30 L218.80,272.60 Z" fill="#fff" stroke="#d07a3a" stroke-width="0.75"/>
<text transform="translate(225.40,276.70) scale(1,1.03)" font-size="7.1" text-anchor="start" font-weight="normal" fill="#111" >PCGF2</text>
<line x1="214.80" y1="285.10" x2="223.20" y2="285.10" stroke="#d49a4c" stroke-width="1.2"/>
<circle cx="218.80" cy="285.10" r="1.45" fill="#fff" stroke="#d49a4c" stroke-width="0.75"/>
<text transform="translate(225.40,287.70) scale(1,1.03)" font-size="7.1" text-anchor="start" font-weight="normal" fill="#111" >PCGF4</text>
<line x1="214.80" y1="296.10" x2="223.20" y2="296.10" stroke="#dac87a" stroke-width="1.2"/>
<line x1="217.20" y1="296.10" x2="220.40" y2="296.10" stroke="#dac87a" stroke-width="1.5"/>
<text transform="translate(225.40,298.70) scale(1,1.03)" font-size="7.1" text-anchor="start" font-weight="normal" fill="#111" >PCGF6</text>
<line x1="214.80" y1="307.10" x2="223.20" y2="307.10" stroke="#1420c0" stroke-width="1.2"/>
<circle cx="218.80" cy="307.10" r="1.75" fill="#1420c0"/>
<text transform="translate(225.40,309.70) scale(1,1.03)" font-size="7.1" text-anchor="start" font-weight="normal" fill="#111" >CBX2</text>
<line x1="214.80" y1="318.10" x2="223.20" y2="318.10" stroke="#5466d0" stroke-width="1.2"/>
<circle cx="218.80" cy="318.10" r="0.95" fill="#5466d0"/>
<text transform="translate(225.40,320.70) scale(1,1.03)" font-size="7.1" text-anchor="start" font-weight="normal" fill="#111" >CBX4</text>
<line x1="214.80" y1="329.10" x2="223.20" y2="329.10" stroke="#8ac8ec" stroke-width="1.2"/>
<circle cx="218.80" cy="329.10" r="0.95" fill="#8ac8ec"/>
<text transform="translate(225.40,331.70) scale(1,1.03)" font-size="7.1" text-anchor="start" font-weight="normal" fill="#111" >CBX7</text>
<line x1="214.80" y1="340.10" x2="223.20" y2="340.10" stroke="#bcc6dc" stroke-width="1.2"/>
<circle cx="218.80" cy="340.10" r="0.95" fill="#bcc6dc"/>
<text transform="translate(225.40,342.70) scale(1,1.03)" font-size="7.1" text-anchor="start" font-weight="normal" fill="#111" >CBX8</text>
<line x1="214.80" y1="351.10" x2="223.20" y2="351.10" stroke="#8ae048" stroke-width="1.2"/>
<path d="M216.70,351.10 L218.80,349.00 L220.90,351.10 L218.80,353.20 Z" fill="#8ae048" opacity="0.9"/>
<text transform="translate(225.40,353.70) scale(1,1.03)" font-size="7.1" text-anchor="start" font-weight="normal" fill="#111" >RING1B</text>
<text transform="translate(258.60,239.00) scale(1,1.0)" font-size="10.5" text-anchor="start" font-weight="bold" fill="#111" >E</text>
<line x1="297.5" y1="245.32" x2="297.5" y2="358.0" stroke="#333" stroke-width="0.8"/>
<line x1="297.5" y1="358.0" x2="457" y2="358.0" stroke="#333" stroke-width="0.8"/>
<line x1="296.00" y1="358.00" x2="297.5" y2="358.00" stroke="#333" stroke-width="0.6"/>
<text transform="translate(294.20,358.20) scale(1,1.13)" font-size="7.0" text-anchor="end" font-weight="normal" fill="#222" >0</text>
<line x1="296.00" y1="345.48" x2="297.5" y2="345.48" stroke="#333" stroke-width="0.6"/>
<text transform="translate(294.20,345.68) scale(1,1.13)" font-size="7.0" text-anchor="end" font-weight="normal" fill="#222" >0.2</text>
<line x1="296.00" y1="332.96" x2="297.5" y2="332.96" stroke="#333" stroke-width="0.6"/>
<text transform="translate(294.20,333.16) scale(1,1.13)" font-size="7.0" text-anchor="end" font-weight="normal" fill="#222" >0.4</text>
<line x1="296.00" y1="320.44" x2="297.5" y2="320.44" stroke="#333" stroke-width="0.6"/>
<text transform="translate(294.20,320.64) scale(1,1.13)" font-size="7.0" text-anchor="end" font-weight="normal" fill="#222" >0.6</text>
<line x1="296.00" y1="307.92" x2="297.5" y2="307.92" stroke="#333" stroke-width="0.6"/>
<text transform="translate(294.20,308.12) scale(1,1.13)" font-size="7.0" text-anchor="end" font-weight="normal" fill="#222" >0.8</text>
<line x1="296.00" y1="295.40" x2="297.5" y2="295.40" stroke="#333" stroke-width="0.6"/>
<text transform="translate(294.20,295.60) scale(1,1.13)" font-size="7.0" text-anchor="end" font-weight="normal" fill="#222" >1.0</text>
<line x1="296.00" y1="282.88" x2="297.5" y2="282.88" stroke="#333" stroke-width="0.6"/>
<text transform="translate(294.20,283.08) scale(1,1.13)" font-size="7.0" text-anchor="end" font-weight="normal" fill="#222" >1.2</text>
<line x1="296.00" y1="270.36" x2="297.5" y2="270.36" stroke="#333" stroke-width="0.6"/>
<text transform="translate(294.20,270.56) scale(1,1.13)" font-size="7.0" text-anchor="end" font-weight="normal" fill="#222" >1.4</text>
<line x1="296.00" y1="257.84" x2="297.5" y2="257.84" stroke="#333" stroke-width="0.6"/>
<text transform="translate(294.20,258.04) scale(1,1.13)" font-size="7.0" text-anchor="end" font-weight="normal" fill="#222" >1.6</text>
<line x1="296.00" y1="245.32" x2="297.5" y2="245.32" stroke="#333" stroke-width="0.6"/>
<text transform="translate(294.20,245.52) scale(1,1.13)" font-size="7.0" text-anchor="end" font-weight="normal" fill="#222" >1.8</text>
<line x1="297.60" y1="358.0" x2="297.60" y2="359.60" stroke="#333" stroke-width="0.6"/>
<text transform="translate(297.60,367.60) scale(1,1.13)" font-size="7.0" text-anchor="middle" font-weight="normal" fill="#222" >0</text>
<line x1="350.35" y1="358.0" x2="350.35" y2="359.60" stroke="#333" stroke-width="0.6"/>
<text transform="translate(350.35,367.60) scale(1,1.13)" font-size="7.0" text-anchor="middle" font-weight="normal" fill="#222" >1</text>
<line x1="403.10" y1="358.0" x2="403.10" y2="359.60" stroke="#333" stroke-width="0.6"/>
<text transform="translate(403.10,367.60) scale(1,1.13)" font-size="7.0" text-anchor="middle" font-weight="normal" fill="#222" >2</text>
<line x1="455.85" y1="358.0" x2="455.85" y2="359.60" stroke="#333" stroke-width="0.6"/>
<text transform="translate(455.85,367.60) scale(1,1.13)" font-size="7.0" text-anchor="middle" font-weight="normal" fill="#222" >3</text>
<text transform="translate(377.20,374.60) scale(1,1.0)" font-size="8.3" text-anchor="middle" font-weight="normal" fill="#111" >week</text>
<text transform="translate(278.8,303.3) rotate(-90)" font-size="8.5" text-anchor="middle" fill="#111">cum. growth GFP<tspan font-size="5" dy="-3">+</tspan><tspan dy="3"> cells (x10</tspan><tspan font-size="5" dy="-3">6</tspan><tspan dy="3">)</tspan></text>
<polyline points="297.60,358.00 350.35,356.90 403.10,349.50 455.85,337.50" fill="none" stroke="#bcc6dc" stroke-width="1.1"/>
<polyline points="297.60,358.00 350.35,356.90 403.10,348.00 455.85,348.00" fill="none" stroke="#8ac8ec" stroke-width="1.1"/>
<polyline points="297.60,358.00 350.35,356.90 403.10,349.00 455.85,320.70" fill="none" stroke="#5466d0" stroke-width="1.1"/>
<polyline points="297.60,358.00 350.35,357.00 403.10,354.30 455.85,342.00" fill="none" stroke="#1420c0" stroke-width="1.1"/>
<polyline points="297.60,358.00 350.35,356.90 403.10,348.50 455.85,305.70" fill="none" stroke="#dac87a" stroke-width="1.1"/>
<polyline points="297.60,358.00 350.35,356.90 403.10,350.00 455.85,312.00" fill="none" stroke="#d49a4c" stroke-width="1.1"/>
<polyline points="297.60,358.00 350.35,357.20 403.10,355.00 455.85,345.00" fill="none" stroke="#d07a3a" stroke-width="1.1"/>
<polyline points="297.60,358.00 350.35,357.00 403.10,353.00 455.85,343.70" fill="none" stroke="#c8363e" stroke-width="1.1"/>
<polyline points="297.60,358.00 350.35,356.90 403.10,347.20 455.85,257.00" fill="none" stroke="#111111" stroke-width="1.1"/>
<polyline points="297.60,358.00 350.35,356.90 403.10,350.00 455.85,324.50" fill="none" stroke="#8ae048" stroke-width="1.1"/>
<circle cx="297.60" cy="358.00" r="0.95" fill="#bcc6dc"/>
<circle cx="350.35" cy="356.90" r="0.95" fill="#bcc6dc"/>
<circle cx="403.10" cy="349.50" r="0.95" fill="#bcc6dc"/>
<circle cx="455.85" cy="337.50" r="0.95" fill="#bcc6dc"/>
<circle cx="297.60" cy="358.00" r="0.95" fill="#8ac8ec"/>
<circle cx="350.35" cy="356.90" r="0.95" fill="#8ac8ec"/>
<circle cx="403.10" cy="348.00" r="0.95" fill="#8ac8ec"/>
<circle cx="455.85" cy="348.00" r="0.95" fill="#8ac8ec"/>
<circle cx="297.60" cy="358.00" r="0.95" fill="#5466d0"/>
<circle cx="350.35" cy="356.90" r="0.95" fill="#5466d0"/>
<circle cx="403.10" cy="349.00" r="0.95" fill="#5466d0"/>
<circle cx="455.85" cy="320.70" r="0.95" fill="#5466d0"/>
<circle cx="297.60" cy="358.00" r="1.75" fill="#1420c0"/>
<circle cx="350.35" cy="357.00" r="1.75" fill="#1420c0"/>
<circle cx="403.10" cy="354.30" r="1.75" fill="#1420c0"/>
<circle cx="455.85" cy="342.00" r="1.75" fill="#1420c0"/>
<line x1="296.00" y1="358.00" x2="299.20" y2="358.00" stroke="#dac87a" stroke-width="1.5"/>
<line x1="348.75" y1="356.90" x2="351.95" y2="356.90" stroke="#dac87a" stroke-width="1.5"/>
<line x1="401.50" y1="348.50" x2="404.70" y2="348.50" stroke="#dac87a" stroke-width="1.5"/>
<line x1="454.25" y1="305.70" x2="457.45" y2="305.70" stroke="#dac87a" stroke-width="1.5"/>
<circle cx="297.60" cy="358.00" r="1.45" fill="#fff" stroke="#d49a4c" stroke-width="0.75"/>
<circle cx="350.35" cy="356.90" r="1.45" fill="#fff" stroke="#d49a4c" stroke-width="0.75"/>
<circle cx="403.10" cy="350.00" r="1.45" fill="#fff" stroke="#d49a4c" stroke-width="0.75"/>
<circle cx="455.85" cy="312.00" r="1.45" fill="#fff" stroke="#d49a4c" stroke-width="0.75"/>
<path d="M296.00,359.20 L299.20,359.20 L297.60,356.50 Z" fill="#fff" stroke="#d07a3a" stroke-width="0.75"/>
<path d="M348.75,358.40 L351.95,358.40 L350.35,355.70 Z" fill="#fff" stroke="#d07a3a" stroke-width="0.75"/>
<path d="M401.50,356.20 L404.70,356.20 L403.10,353.50 Z" fill="#fff" stroke="#d07a3a" stroke-width="0.75"/>
<path d="M454.25,346.20 L457.45,346.20 L455.85,343.50 Z" fill="#fff" stroke="#d07a3a" stroke-width="0.75"/>
<rect x="296.25" y="356.65" width="2.7" height="2.7" fill="#fff" stroke="#c8363e" stroke-width="0.85"/>
<rect x="349.00" y="355.65" width="2.7" height="2.7" fill="#fff" stroke="#c8363e" stroke-width="0.85"/>
<rect x="401.75" y="351.65" width="2.7" height="2.7" fill="#fff" stroke="#c8363e" stroke-width="0.85"/>
<rect x="454.50" y="342.35" width="2.7" height="2.7" fill="#fff" stroke="#c8363e" stroke-width="0.85"/>
<circle cx="297.60" cy="358.00" r="1.45" fill="#111111"/>
<circle cx="350.35" cy="356.90" r="1.45" fill="#111111"/>
<circle cx="403.10" cy="347.20" r="1.45" fill="#111111"/>
<circle cx="455.85" cy="257.00" r="1.45" fill="#111111"/>
<path d="M295.50,358.00 L297.60,355.90 L299.70,358.00 L297.60,360.10 Z" fill="#8ae048" opacity="0.9"/>
<path d="M348.25,356.90 L350.35,354.80 L352.45,356.90 L350.35,359.00 Z" fill="#8ae048" opacity="0.9"/>
<path d="M401.00,350.00 L403.10,347.90 L405.20,350.00 L403.10,352.10 Z" fill="#8ae048" opacity="0.9"/>
<path d="M453.75,324.50 L455.85,322.40 L457.95,324.50 L455.85,326.60 Z" fill="#8ae048" opacity="0.9"/>
<line x1="466.30" y1="252.30" x2="474.70" y2="252.30" stroke="#111111" stroke-width="1.2"/>
<circle cx="470.30" cy="252.30" r="1.45" fill="#111111"/>
<text transform="translate(477.60,254.90) scale(1,1.03)" font-size="7.1" text-anchor="start" font-weight="normal" fill="#111" >SCR</text>
<line x1="466.30" y1="263.30" x2="474.70" y2="263.30" stroke="#c8363e" stroke-width="1.2"/>
<rect x="468.95" y="261.95" width="2.7" height="2.7" fill="#fff" stroke="#c8363e" stroke-width="0.85"/>
<text transform="translate(477.60,265.90) scale(1,1.03)" font-size="7.1" text-anchor="start" font-weight="normal" fill="#111" >PCGF1</text>
<line x1="466.30" y1="274.30" x2="474.70" y2="274.30" stroke="#d07a3a" stroke-width="1.2"/>
<path d="M468.70,275.50 L471.90,275.50 L470.30,272.80 Z" fill="#fff" stroke="#d07a3a" stroke-width="0.75"/>
<text transform="translate(477.60,276.90) scale(1,1.03)" font-size="7.1" text-anchor="start" font-weight="normal" fill="#111" >PCGF2</text>
<line x1="466.30" y1="285.30" x2="474.70" y2="285.30" stroke="#d49a4c" stroke-width="1.2"/>
<circle cx="470.30" cy="285.30" r="1.45" fill="#fff" stroke="#d49a4c" stroke-width="0.75"/>
<text transform="translate(477.60,287.90) scale(1,1.03)" font-size="7.1" text-anchor="start" font-weight="normal" fill="#111" >PCGF4</text>
<line x1="466.30" y1="296.30" x2="474.70" y2="296.30" stroke="#dac87a" stroke-width="1.2"/>
<line x1="468.70" y1="296.30" x2="471.90" y2="296.30" stroke="#dac87a" stroke-width="1.5"/>
<text transform="translate(477.60,298.90) scale(1,1.03)" font-size="7.1" text-anchor="start" font-weight="normal" fill="#111" >PCGF6</text>
<line x1="466.30" y1="307.30" x2="474.70" y2="307.30" stroke="#1420c0" stroke-width="1.2"/>
<circle cx="470.30" cy="307.30" r="1.75" fill="#1420c0"/>
<text transform="translate(477.60,309.90) scale(1,1.03)" font-size="7.1" text-anchor="start" font-weight="normal" fill="#111" >CBX2</text>
<line x1="466.30" y1="318.30" x2="474.70" y2="318.30" stroke="#5466d0" stroke-width="1.2"/>
<circle cx="470.30" cy="318.30" r="0.95" fill="#5466d0"/>
<text transform="translate(477.60,320.90) scale(1,1.03)" font-size="7.1" text-anchor="start" font-weight="normal" fill="#111" >CBX4</text>
<line x1="466.30" y1="329.30" x2="474.70" y2="329.30" stroke="#8ac8ec" stroke-width="1.2"/>
<circle cx="470.30" cy="329.30" r="0.95" fill="#8ac8ec"/>
<text transform="translate(477.60,331.90) scale(1,1.03)" font-size="7.1" text-anchor="start" font-weight="normal" fill="#111" >CBX7</text>
<line x1="466.30" y1="340.30" x2="474.70" y2="340.30" stroke="#bcc6dc" stroke-width="1.2"/>
<circle cx="470.30" cy="340.30" r="0.95" fill="#bcc6dc"/>
<text transform="translate(477.60,342.90) scale(1,1.03)" font-size="7.1" text-anchor="start" font-weight="normal" fill="#111" >CBX8</text>
<line x1="466.30" y1="351.30" x2="474.70" y2="351.30" stroke="#8ae048" stroke-width="1.2"/>
<path d="M468.20,351.30 L470.30,349.20 L472.40,351.30 L470.30,353.40 Z" fill="#8ae048" opacity="0.9"/>
<text transform="translate(477.60,353.90) scale(1,1.03)" font-size="7.1" text-anchor="start" font-weight="normal" fill="#111" >RING1B</text>
<text transform="translate(1.00,396.90) scale(1,1.0)" font-size="10.5" text-anchor="start" font-weight="bold" fill="#111" >F</text>
<line x1="30.5" y1="407.20" x2="30.5" y2="514.5" stroke="#555" stroke-width="0.7"/>
<line x1="30.5" y1="514.5" x2="222.5" y2="514.5" stroke="#555" stroke-width="0.7"/>
<line x1="28.20" y1="514.50" x2="30.5" y2="514.50" stroke="#555" stroke-width="0.7"/>
<text transform="translate(27.00,515.10) scale(1,1.13)" font-size="6.9" text-anchor="end" font-weight="normal" fill="#222" >0</text>
<line x1="28.20" y1="501.09" x2="30.5" y2="501.09" stroke="#555" stroke-width="0.7"/>
<text transform="translate(27.00,501.69) scale(1,1.13)" font-size="6.9" text-anchor="end" font-weight="normal" fill="#222" >20</text>
<line x1="28.20" y1="487.68" x2="30.5" y2="487.68" stroke="#555" stroke-width="0.7"/>
<text transform="translate(27.00,488.28) scale(1,1.13)" font-size="6.9" text-anchor="end" font-weight="normal" fill="#222" >40</text>
<line x1="28.20" y1="474.26" x2="30.5" y2="474.26" stroke="#555" stroke-width="0.7"/>
<text transform="translate(27.00,474.86) scale(1,1.13)" font-size="6.9" text-anchor="end" font-weight="normal" fill="#222" >60</text>
<line x1="28.20" y1="460.85" x2="30.5" y2="460.85" stroke="#555" stroke-width="0.7"/>
<text transform="translate(27.00,461.45) scale(1,1.13)" font-size="6.9" text-anchor="end" font-weight="normal" fill="#222" >80</text>
<line x1="28.20" y1="447.44" x2="30.5" y2="447.44" stroke="#555" stroke-width="0.7"/>
<text transform="translate(27.00,448.04) scale(1,1.13)" font-size="6.9" text-anchor="end" font-weight="normal" fill="#222" >100</text>
<line x1="28.20" y1="434.03" x2="30.5" y2="434.03" stroke="#555" stroke-width="0.7"/>
<text transform="translate(27.00,434.63) scale(1,1.13)" font-size="6.9" text-anchor="end" font-weight="normal" fill="#222" >120</text>
<line x1="28.20" y1="420.62" x2="30.5" y2="420.62" stroke="#555" stroke-width="0.7"/>
<text transform="translate(27.00,421.22) scale(1,1.13)" font-size="6.9" text-anchor="end" font-weight="normal" fill="#222" >140</text>
<line x1="28.20" y1="407.20" x2="30.5" y2="407.20" stroke="#555" stroke-width="0.7"/>
<text transform="translate(27.00,407.80) scale(1,1.13)" font-size="6.9" text-anchor="end" font-weight="normal" fill="#222" >160</text>
<rect x="36.00" y="421.60" width="7.8" height="92.90" fill="#5c7cc6" stroke="#4c69b0" stroke-width="0.5"/>
<line x1="39.90" y1="421.60" x2="39.90" y2="420.80" stroke="#23335a" stroke-width="0.9"/>
<line x1="38.50" y1="420.80" x2="41.30" y2="420.80" stroke="#23335a" stroke-width="1.0"/>
<line x1="49.42" y1="514.5" x2="49.42" y2="516.10" stroke="#555" stroke-width="0.6"/>
<text transform="translate(42.80,518.60) rotate(-90)" font-size="6.6" text-anchor="end" fill="#111" >SCR</text>
<rect x="55.13" y="503.20" width="7.8" height="11.30" fill="#5c7cc6" stroke="#4c69b0" stroke-width="0.5"/>
<line x1="59.03" y1="503.20" x2="59.03" y2="500.00" stroke="#23335a" stroke-width="0.9"/>
<line x1="57.63" y1="500.00" x2="60.43" y2="500.00" stroke="#23335a" stroke-width="1.0"/>
<line x1="68.55" y1="514.5" x2="68.55" y2="516.10" stroke="#555" stroke-width="0.6"/>
<text transform="translate(61.93,518.60) rotate(-90)" font-size="6.6" text-anchor="end" fill="#111" >PCGF1</text>
<rect x="74.26" y="490.50" width="7.8" height="24.00" fill="#5c7cc6" stroke="#4c69b0" stroke-width="0.5"/>
<line x1="78.16" y1="490.50" x2="78.16" y2="488.00" stroke="#23335a" stroke-width="0.9"/>
<line x1="76.76" y1="488.00" x2="79.56" y2="488.00" stroke="#23335a" stroke-width="1.0"/>
<line x1="87.68" y1="514.5" x2="87.68" y2="516.10" stroke="#555" stroke-width="0.6"/>
<text transform="translate(81.06,518.60) rotate(-90)" font-size="6.6" text-anchor="end" fill="#111" >PCGF2</text>
<rect x="93.39" y="471.30" width="7.8" height="43.20" fill="#5c7cc6" stroke="#4c69b0" stroke-width="0.5"/>
<line x1="97.29" y1="471.30" x2="97.29" y2="470.60" stroke="#23335a" stroke-width="0.9"/>
<line x1="95.89" y1="470.60" x2="98.69" y2="470.60" stroke="#23335a" stroke-width="1.0"/>
<line x1="106.81" y1="514.5" x2="106.81" y2="516.10" stroke="#555" stroke-width="0.6"/>
<text transform="translate(100.19,518.60) rotate(-90)" font-size="6.6" text-anchor="end" fill="#111" >PCGF4</text>
<rect x="112.52" y="422.90" width="7.8" height="91.60" fill="#5c7cc6" stroke="#4c69b0" stroke-width="0.5"/>
<line x1="116.42" y1="422.90" x2="116.42" y2="422.20" stroke="#23335a" stroke-width="0.9"/>
<line x1="115.02" y1="422.20" x2="117.82" y2="422.20" stroke="#23335a" stroke-width="1.0"/>
<line x1="125.94" y1="514.5" x2="125.94" y2="516.10" stroke="#555" stroke-width="0.6"/>
<text transform="translate(119.32,518.60) rotate(-90)" font-size="6.6" text-anchor="end" fill="#111" >PCGF6</text>
<rect x="131.65" y="499.10" width="7.8" height="15.40" fill="#5c7cc6" stroke="#4c69b0" stroke-width="0.5"/>
<line x1="135.55" y1="499.10" x2="135.55" y2="498.40" stroke="#23335a" stroke-width="0.9"/>
<line x1="134.15" y1="498.40" x2="136.95" y2="498.40" stroke="#23335a" stroke-width="1.0"/>
<line x1="145.07" y1="514.5" x2="145.07" y2="516.10" stroke="#555" stroke-width="0.6"/>
<text transform="translate(138.45,518.60) rotate(-90)" font-size="6.6" text-anchor="end" fill="#111" >CBX2</text>
<rect x="150.78" y="482.90" width="7.8" height="31.60" fill="#5c7cc6" stroke="#4c69b0" stroke-width="0.5"/>
<line x1="154.68" y1="482.90" x2="154.68" y2="482.30" stroke="#23335a" stroke-width="0.9"/>
<line x1="153.28" y1="482.30" x2="156.08" y2="482.30" stroke="#23335a" stroke-width="1.0"/>
<line x1="164.20" y1="514.5" x2="164.20" y2="516.10" stroke="#555" stroke-width="0.6"/>
<text transform="translate(157.58,518.60) rotate(-90)" font-size="6.6" text-anchor="end" fill="#111" >CBX4</text>
<rect x="169.91" y="489.70" width="7.8" height="24.80" fill="#5c7cc6" stroke="#4c69b0" stroke-width="0.5"/>
<line x1="173.81" y1="489.70" x2="173.81" y2="487.50" stroke="#23335a" stroke-width="0.9"/>
<line x1="172.41" y1="487.50" x2="175.21" y2="487.50" stroke="#23335a" stroke-width="1.0"/>
<line x1="183.33" y1="514.5" x2="183.33" y2="516.10" stroke="#555" stroke-width="0.6"/>
<text transform="translate(176.71,518.60) rotate(-90)" font-size="6.6" text-anchor="end" fill="#111" >CBX7</text>
<rect x="189.04" y="488.00" width="7.8" height="26.50" fill="#5c7cc6" stroke="#4c69b0" stroke-width="0.5"/>
<line x1="192.94" y1="488.00" x2="192.94" y2="482.10" stroke="#23335a" stroke-width="0.9"/>
<line x1="191.54" y1="482.10" x2="194.34" y2="482.10" stroke="#23335a" stroke-width="1.0"/>
<line x1="202.46" y1="514.5" x2="202.46" y2="516.10" stroke="#555" stroke-width="0.6"/>
<text transform="translate(195.84,518.60) rotate(-90)" font-size="6.6" text-anchor="end" fill="#111" >CBX8</text>
<rect x="208.17" y="496.10" width="7.8" height="18.40" fill="#5c7cc6" stroke="#4c69b0" stroke-width="0.5"/>
<line x1="212.07" y1="496.10" x2="212.07" y2="492.90" stroke="#23335a" stroke-width="0.9"/>
<line x1="210.67" y1="492.90" x2="213.47" y2="492.90" stroke="#23335a" stroke-width="1.0"/>
<line x1="221.59" y1="514.5" x2="221.59" y2="516.10" stroke="#555" stroke-width="0.6"/>
<text transform="translate(214.97,518.60) rotate(-90)" font-size="6.6" text-anchor="end" fill="#111" >RING1B</text>
<text transform="translate(11.90,457.30) rotate(-90)" font-size="8.5" text-anchor="middle" fill="#1a1a1a" >CFCs/1000 cells</text>
<text transform="translate(259.00,397.00) scale(1,1.0)" font-size="10.5" text-anchor="start" font-weight="bold" fill="#111" >G</text>
<line x1="306.5" y1="406.50" x2="306.5" y2="514.5" stroke="#555" stroke-width="0.7"/>
<line x1="306.5" y1="514.5" x2="497" y2="514.5" stroke="#555" stroke-width="0.7"/>
<line x1="303.90" y1="514.50" x2="306.5" y2="514.50" stroke="#555" stroke-width="0.7"/>
<text transform="translate(302.30,515.70) scale(1,1.13)" font-size="6.9" text-anchor="end" font-weight="normal" fill="#222" >0</text>
<line x1="303.90" y1="492.90" x2="306.5" y2="492.90" stroke="#555" stroke-width="0.7"/>
<text transform="translate(302.30,494.10) scale(1,1.13)" font-size="6.9" text-anchor="end" font-weight="normal" fill="#222" >20</text>
<line x1="303.90" y1="471.30" x2="306.5" y2="471.30" stroke="#555" stroke-width="0.7"/>
<text transform="translate(302.30,472.50) scale(1,1.13)" font-size="6.9" text-anchor="end" font-weight="normal" fill="#222" >40</text>
<line x1="303.90" y1="449.70" x2="306.5" y2="449.70" stroke="#555" stroke-width="0.7"/>
<text transform="translate(302.30,450.90) scale(1,1.13)" font-size="6.9" text-anchor="end" font-weight="normal" fill="#222" >60</text>
<line x1="303.90" y1="428.10" x2="306.5" y2="428.10" stroke="#555" stroke-width="0.7"/>
<text transform="translate(302.30,429.30) scale(1,1.13)" font-size="6.9" text-anchor="end" font-weight="normal" fill="#222" >80</text>
<line x1="303.90" y1="406.50" x2="306.5" y2="406.50" stroke="#555" stroke-width="0.7"/>
<text transform="translate(302.30,407.70) scale(1,1.13)" font-size="6.9" text-anchor="end" font-weight="normal" fill="#222" >100</text>
<rect x="311.90" y="406.50" width="7.4" height="3.78" fill="#a8bc6c" stroke="#8c9c58" stroke-width="0.4"/>
<rect x="311.90" y="410.28" width="7.4" height="51.30" fill="#b24f4d" stroke="#9a4444" stroke-width="0.4"/>
<rect x="311.90" y="461.58" width="7.4" height="52.92" fill="#5f80c4" stroke="#4d6aac" stroke-width="0.4"/>
<line x1="325.14" y1="514.5" x2="325.14" y2="516.10" stroke="#555" stroke-width="0.6"/>
<text transform="translate(317.90,518.40) rotate(-90)" font-size="6.6" text-anchor="end" fill="#111" >SCR</text>
<rect x="330.98" y="406.50" width="7.4" height="0.00" fill="#a8bc6c" stroke="#8c9c58" stroke-width="0.4"/>
<rect x="330.98" y="406.50" width="7.4" height="1.08" fill="#b24f4d" stroke="#9a4444" stroke-width="0.4"/>
<rect x="330.98" y="407.58" width="7.4" height="106.92" fill="#5f80c4" stroke="#4d6aac" stroke-width="0.4"/>
<line x1="344.22" y1="514.5" x2="344.22" y2="516.10" stroke="#555" stroke-width="0.6"/>
<text transform="translate(336.98,518.40) rotate(-90)" font-size="6.6" text-anchor="end" fill="#111" >PCGF1</text>
<rect x="350.06" y="406.50" width="7.4" height="0.00" fill="#a8bc6c" stroke="#8c9c58" stroke-width="0.4"/>
<rect x="350.06" y="406.50" width="7.4" height="24.84" fill="#b24f4d" stroke="#9a4444" stroke-width="0.4"/>
<rect x="350.06" y="431.34" width="7.4" height="83.16" fill="#5f80c4" stroke="#4d6aac" stroke-width="0.4"/>
<line x1="363.30" y1="514.5" x2="363.30" y2="516.10" stroke="#555" stroke-width="0.6"/>
<text transform="translate(356.06,518.40) rotate(-90)" font-size="6.6" text-anchor="end" fill="#111" >PCGF2</text>
<rect x="369.14" y="406.50" width="7.4" height="0.00" fill="#a8bc6c" stroke="#8c9c58" stroke-width="0.4"/>
<rect x="369.14" y="406.50" width="7.4" height="31.32" fill="#b24f4d" stroke="#9a4444" stroke-width="0.4"/>
<rect x="369.14" y="437.82" width="7.4" height="76.68" fill="#5f80c4" stroke="#4d6aac" stroke-width="0.4"/>
<line x1="382.38" y1="514.5" x2="382.38" y2="516.10" stroke="#555" stroke-width="0.6"/>
<text transform="translate(375.14,518.40) rotate(-90)" font-size="6.6" text-anchor="end" fill="#111" >PCGF4</text>
<rect x="388.22" y="406.50" width="7.4" height="2.38" fill="#a8bc6c" stroke="#8c9c58" stroke-width="0.4"/>
<rect x="388.22" y="408.88" width="7.4" height="54.86" fill="#b24f4d" stroke="#9a4444" stroke-width="0.4"/>
<rect x="388.22" y="463.74" width="7.4" height="50.76" fill="#5f80c4" stroke="#4d6aac" stroke-width="0.4"/>
<line x1="401.46" y1="514.5" x2="401.46" y2="516.10" stroke="#555" stroke-width="0.6"/>
<text transform="translate(394.22,518.40) rotate(-90)" font-size="6.6" text-anchor="end" fill="#111" >PCGF6</text>
<rect x="407.30" y="406.50" width="7.4" height="0.00" fill="#a8bc6c" stroke="#8c9c58" stroke-width="0.4"/>
<rect x="407.30" y="406.50" width="7.4" height="23.98" fill="#b24f4d" stroke="#9a4444" stroke-width="0.4"/>
<rect x="407.30" y="430.48" width="7.4" height="84.02" fill="#5f80c4" stroke="#4d6aac" stroke-width="0.4"/>
<line x1="420.54" y1="514.5" x2="420.54" y2="516.10" stroke="#555" stroke-width="0.6"/>
<text transform="translate(413.30,518.40) rotate(-90)" font-size="6.6" text-anchor="end" fill="#111" >CBX2</text>
<rect x="426.38" y="406.50" width="7.4" height="0.00" fill="#a8bc6c" stroke="#8c9c58" stroke-width="0.4"/>
<rect x="426.38" y="406.50" width="7.4" height="17.28" fill="#b24f4d" stroke="#9a4444" stroke-width="0.4"/>
<rect x="426.38" y="423.78" width="7.4" height="90.72" fill="#5f80c4" stroke="#4d6aac" stroke-width="0.4"/>
<line x1="439.62" y1="514.5" x2="439.62" y2="516.10" stroke="#555" stroke-width="0.6"/>
<text transform="translate(432.38,518.40) rotate(-90)" font-size="6.6" text-anchor="end" fill="#111" >CBX4</text>
<rect x="445.46" y="406.50" width="7.4" height="0.00" fill="#a8bc6c" stroke="#8c9c58" stroke-width="0.4"/>
<rect x="445.46" y="406.50" width="7.4" height="7.34" fill="#b24f4d" stroke="#9a4444" stroke-width="0.4"/>
<rect x="445.46" y="413.84" width="7.4" height="100.66" fill="#5f80c4" stroke="#4d6aac" stroke-width="0.4"/>
<line x1="458.70" y1="514.5" x2="458.70" y2="516.10" stroke="#555" stroke-width="0.6"/>
<text transform="translate(451.46,518.40) rotate(-90)" font-size="6.6" text-anchor="end" fill="#111" >CBX7</text>
<rect x="464.54" y="406.50" width="7.4" height="0.00" fill="#a8bc6c" stroke="#8c9c58" stroke-width="0.4"/>
<rect x="464.54" y="406.50" width="7.4" height="26.24" fill="#b24f4d" stroke="#9a4444" stroke-width="0.4"/>
<rect x="464.54" y="432.74" width="7.4" height="81.76" fill="#5f80c4" stroke="#4d6aac" stroke-width="0.4"/>
<line x1="477.78" y1="514.5" x2="477.78" y2="516.10" stroke="#555" stroke-width="0.6"/>
<text transform="translate(470.54,518.40) rotate(-90)" font-size="6.6" text-anchor="end" fill="#111" >CBX8</text>
<rect x="483.62" y="406.50" width="7.4" height="0.00" fill="#a8bc6c" stroke="#8c9c58" stroke-width="0.4"/>
<rect x="483.62" y="406.50" width="7.4" height="5.83" fill="#b24f4d" stroke="#9a4444" stroke-width="0.4"/>
<rect x="483.62" y="412.33" width="7.4" height="102.17" fill="#5f80c4" stroke="#4d6aac" stroke-width="0.4"/>
<line x1="496.86" y1="514.5" x2="496.86" y2="516.10" stroke="#555" stroke-width="0.6"/>
<text transform="translate(489.62,518.40) rotate(-90)" font-size="6.6" text-anchor="end" fill="#111" >RING1B</text>
<line x1="306.50" y1="514.5" x2="306.50" y2="516.10" stroke="#555" stroke-width="0.6"/>
<text transform="translate(287.30,459.00) rotate(-90)" font-size="8.6" text-anchor="middle" fill="#1a1a1a" >%CFCs</text>
<rect x="336.9" y="397.2" width="5.6" height="4.6" fill="#a8bc6c"/>
<text transform="translate(344.00,401.90) scale(1,1.13)" font-size="6.6" text-anchor="start" font-weight="normal" fill="#111" >CFU-GEMM</text>
<rect x="391.9" y="397.2" width="5.6" height="4.6" fill="#b24f4d"/>
<text transform="translate(398.80,401.90) scale(1,1.13)" font-size="6.6" text-anchor="start" font-weight="normal" fill="#111" >BFU-E</text>
<rect x="429.3" y="397.2" width="5.6" height="4.6" fill="#5f80c4"/>
<text transform="translate(435.80,401.90) scale(1,1.13)" font-size="6.6" text-anchor="start" font-weight="normal" fill="#111" >CFU-GM</text>
</svg></body></html>
